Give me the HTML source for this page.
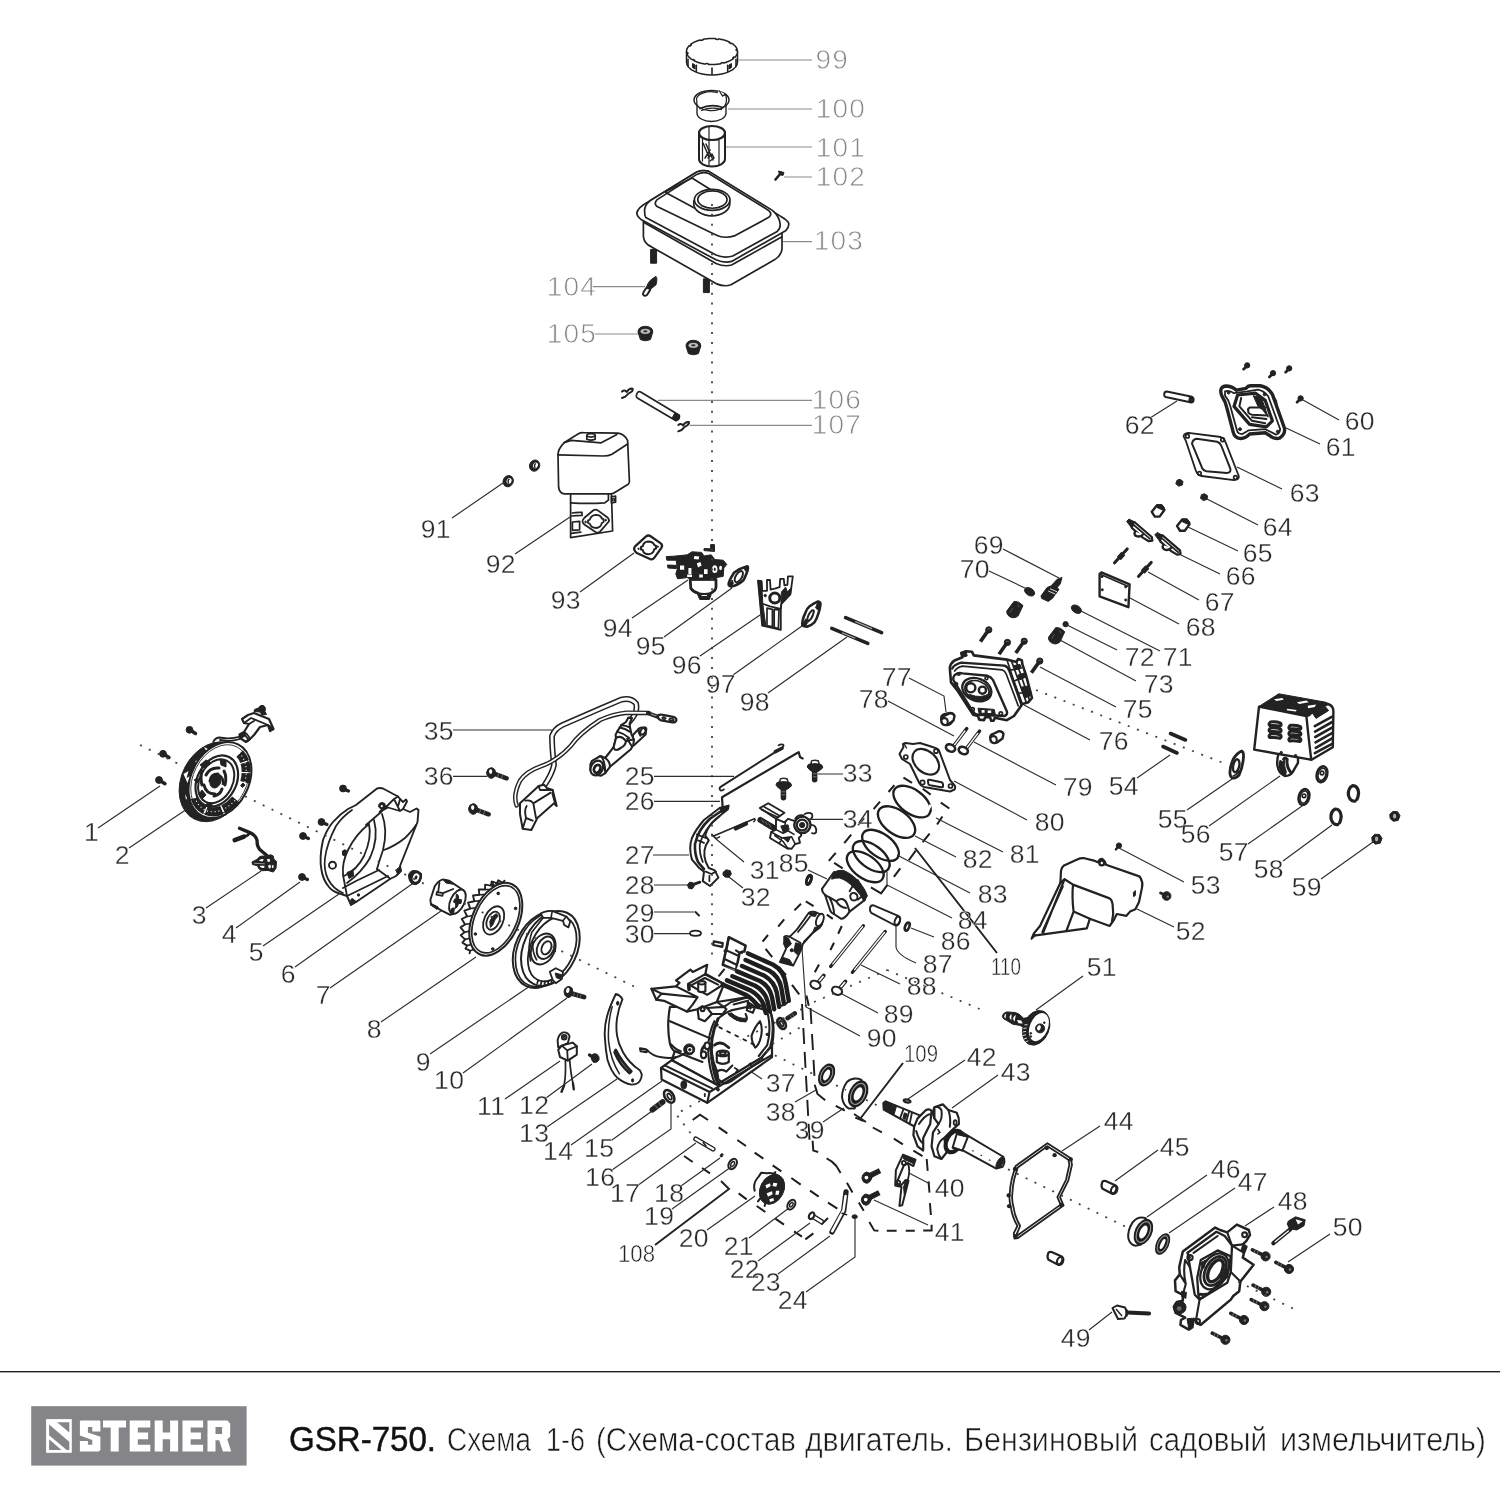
<!DOCTYPE html>
<html><head><meta charset="utf-8"><title>GSR-750</title>
<style>
html,body{margin:0;padding:0;background:#fff;}
body{width:1500px;height:1500px;overflow:hidden;font-family:"Liberation Sans",sans-serif;}
svg{display:block;position:absolute;left:0;top:0;opacity:.999;will-change:transform}
.p{fill:none;stroke:#222;stroke-width:1.7;stroke-linecap:round;stroke-linejoin:round}
.pw{fill:#fff;stroke:#222;stroke-width:1.7;stroke-linecap:round;stroke-linejoin:round}
.pk{fill:#222;stroke:#222;stroke-width:1;stroke-linejoin:round}
.t{fill:none;stroke:#222;stroke-width:.8;stroke-linecap:round;stroke-linejoin:round}
.p,.pw,.pk,.t,.pt{vector-effect:non-scaling-stroke}
.pt{fill:none;stroke:#222;stroke-width:2.4;stroke-linecap:round;stroke-linejoin:round}
.ld{fill:none;stroke:#2e2e2e;stroke-width:1.15}
.lg{fill:none;stroke:#8a8a8a;stroke-width:1.2}
.dot{fill:none;stroke:#444;stroke-width:1.8;stroke-dasharray:2 7.85;stroke-linecap:butt}
.dsh{fill:none;stroke:#222;stroke-width:1.8;stroke-dasharray:13 7}
.n{font-family:"Liberation Sans",sans-serif;font-size:26.5px;fill:#2a2a2a;stroke:#fff;stroke-width:.35px;letter-spacing:.4px}
.ng{font-family:"Liberation Sans",sans-serif;font-size:28px;fill:#858585;stroke:#fff;stroke-width:.8px;letter-spacing:1.2px}
.ns{font-family:"Liberation Sans",sans-serif;font-size:24px;fill:#222;stroke:#fff;stroke-width:.5px}
.ft{font-family:"Liberation Sans",sans-serif;font-size:33.5px;fill:#1a1a1a;stroke:#fff;stroke-width:.6px}
.fb{font-family:"Liberation Sans",sans-serif;font-size:34.5px;fill:#111;stroke:#111;stroke-width:.45px}
</style></head><body>
<svg width="1500" height="1500" viewBox="0 0 1500 1500">
<!-- 00_footer.svg -->
<g id="footer" opacity="0.999">
<rect x="0" y="1371" width="1500" height="1.4" fill="#222"/>
<rect x="31.2" y="1406.2" width="215.4" height="59.4" fill="#858589"/>
<rect x="46.1" y="1419.1" width="25.7" height="33.7" fill="#fff"/>
<path fill="#858589" d="M57.1 1422.3 L69.3 1422.3 L69.3 1432.6 Z M49.1 1424.6 L69.3 1441.7 L69.3 1449.9 L66.7 1449.9 L49.1 1435.2 Z M49.1 1439.3 L49.1 1449.9 L61.5 1449.9 Z"/>
<path fill="#fff" fill-rule="evenodd" d="M80.6 1420.5 L99.7 1420.5 L100.4 1421.3 L100.4 1431.5 L92.3 1431.5 L92.3 1427.1 L87.9 1427.1 L87.9 1432.6 L100.4 1436.7 L100.4 1449.9 L98.6 1451.6 L79.9 1451.6 L79.9 1441.1 L87.9 1441.1 L87.9 1444.7 L92.3 1444.7 L92.3 1439.9 L79.9 1435.6 L79.9 1421.3 Z M103 1420.5 L126.1 1420.5 L126.1 1427.6 L118.7 1427.6 L118.7 1451.6 L110.7 1451.6 L110.7 1427.6 L103 1427.6 Z M129.7 1420.5 L150.3 1420.5 L150.3 1427.6 L137.8 1427.6 L137.8 1432.6 L148.1 1432.6 L148.1 1439.3 L137.8 1439.3 L137.8 1444.7 L150.3 1444.7 L150.3 1451.6 L129.7 1451.6 Z M154.7 1420.5 L162.7 1420.5 L162.7 1432.6 L170.1 1432.6 L170.1 1420.5 L178.1 1420.5 L178.1 1451.6 L170.1 1451.6 L170.1 1439.3 L162.7 1439.3 L162.7 1451.6 L154.7 1451.6 Z M182.5 1420.5 L203.1 1420.5 L203.1 1427.6 L190.6 1427.6 L190.6 1432.6 L200.9 1432.6 L200.9 1439.3 L190.6 1439.3 L190.6 1444.7 L203.1 1444.7 L203.1 1451.6 L182.5 1451.6 Z M207.5 1420.5 L227.3 1420.5 L230.2 1423.5 L230.2 1436.7 L227.3 1439.3 L231.2 1451.6 L222.9 1451.6 L219.2 1440.3 L215.5 1440.3 L215.5 1451.6 L207.5 1451.6 Z M215.5 1427.1 L222.1 1427.1 L222.1 1434 L215.5 1434 Z"/>
<text class="fb" x="289" y="1450.5" textLength="147" lengthAdjust="spacingAndGlyphs">GSR-750.</text>
<text class="ft" x="447" y="1450.5" textLength="84" lengthAdjust="spacingAndGlyphs">Схема</text>
<text class="ft" x="546" y="1450.5" textLength="39" lengthAdjust="spacingAndGlyphs">1-6</text>
<text class="ft" x="596" y="1450.5" textLength="200" lengthAdjust="spacingAndGlyphs">(Схема-состав</text>
<text class="ft" x="805" y="1450.5" textLength="148" lengthAdjust="spacingAndGlyphs">двигатель.</text>
<text class="ft" x="964" y="1450.5" textLength="174" lengthAdjust="spacingAndGlyphs">Бензиновый</text>
<text class="ft" x="1149" y="1450.5" textLength="118" lengthAdjust="spacingAndGlyphs">садовый</text>
<text class="ft" x="1280" y="1450.5" textLength="206" lengthAdjust="spacingAndGlyphs">измельчитель)</text>
</g>
<!-- 10_top.svg -->
<g id="p99">
<path class="pw" style="stroke-width:1.5" d="M686.5 52.5 V62.0 A25.5 13.0 0 0 0 737.5 62.0 V52.5 A25.5 13.0 0 0 0 686.5 52.5 Z"/>
<path class="pw" style="stroke-width:1.5" d="M737.5 51.5 L737.5 51.7 L737.5 52.0 L737.5 52.2 L737.4 52.4 L737.4 52.6 L737.4 52.9 L737.3 53.1 L737.3 53.3 L737.2 53.5 L737.1 53.8 L737.0 54.0 L736.9 54.2 L736.8 54.4 L736.7 54.6 L736.6 54.9 L736.5 55.1 L736.4 55.3 L736.3 55.5 L736.1 55.7 L736.0 55.9 L735.8 56.2 L735.6 56.4 L735.5 56.6 L735.3 56.8 L735.1 57.0 L734.9 57.2 L733.7 57.1 L733.5 57.3 L733.3 57.5 L733.1 57.7 L732.9 57.9 L732.7 58.1 L733.4 58.6 L733.1 58.8 L732.9 59.0 L732.6 59.1 L732.4 59.3 L732.1 59.5 L731.8 59.7 L731.5 59.9 L731.2 60.0 L731.0 60.2 L730.6 60.4 L730.3 60.5 L730.0 60.7 L729.7 60.9 L729.4 61.0 L729.1 61.2 L728.7 61.3 L728.4 61.5 L728.0 61.6 L727.7 61.7 L727.3 61.9 L727.0 62.0 L726.6 62.1 L726.3 62.3 L725.9 62.4 L725.5 62.5 L725.1 62.6 L724.8 62.8 L724.4 62.9 L724.0 63.0 L723.1 62.6 L722.7 62.7 L722.3 62.8 L721.9 62.8 L721.5 62.9 L721.1 63.0 L721.1 63.6 L720.7 63.7 L720.3 63.8 L719.9 63.9 L719.5 63.9 L719.0 64.0 L718.6 64.1 L718.2 64.1 L717.7 64.2 L717.3 64.2 L716.9 64.3 L716.4 64.3 L716.0 64.3 L715.5 64.4 L715.1 64.4 L714.7 64.4 L714.2 64.5 L713.8 64.5 L713.3 64.5 L712.9 64.5 L712.4 64.5 L712.0 64.5 L711.6 64.5 L711.1 64.5 L710.7 64.5 L710.2 64.5 L709.8 64.5 L709.3 64.4 L708.9 64.4 L708.5 64.4 L708.2 63.8 L707.8 63.7 L707.4 63.7 L706.9 63.6 L706.5 63.6 L706.1 63.5 L705.4 64.1 L705.0 64.0 L704.5 63.9 L704.1 63.9 L703.7 63.8 L703.3 63.7 L702.9 63.6 L702.4 63.6 L702.0 63.5 L701.6 63.4 L701.2 63.3 L700.8 63.2 L700.4 63.1 L700.0 63.0 L699.6 62.9 L699.2 62.8 L698.9 62.6 L698.5 62.5 L698.1 62.4 L697.7 62.3 L697.4 62.1 L697.0 62.0 L696.7 61.9 L696.3 61.7 L696.0 61.6 L695.6 61.5 L695.3 61.3 L694.9 61.2 L694.6 61.0 L694.3 60.9 L694.0 60.7 L694.5 60.1 L694.2 60.0 L693.9 59.8 L693.6 59.6 L693.3 59.5 L692.2 59.7 L691.9 59.5 L691.6 59.3 L691.4 59.1 L691.1 59.0 L690.9 58.8 L690.6 58.6 L690.4 58.4 L690.1 58.2 L689.9 58.0 L689.7 57.8 L689.5 57.6 L689.3 57.4 L689.1 57.2 L688.9 57.0 L688.7 56.8 L688.5 56.6 L688.4 56.4 L688.2 56.2 L688.0 55.9 L687.9 55.7 L687.7 55.5 L687.6 55.3 L687.5 55.1 L687.4 54.9 L687.3 54.6 L687.2 54.4 L687.1 54.2 L687.0 54.0 L686.9 53.8 L687.9 53.4 L687.9 53.2 L687.8 53.0 L687.8 52.8 L687.7 52.6 L687.7 52.4 L686.5 52.2 L686.5 52.0 L686.5 51.7 L686.5 51.5 L686.5 51.3 L686.5 51.0 L686.5 50.8 L686.6 50.6 L686.6 50.4 L686.6 50.1 L686.7 49.9 L686.7 49.7 L686.8 49.5 L686.9 49.2 L687.0 49.0 L687.1 48.8 L687.2 48.6 L687.3 48.4 L687.4 48.1 L687.5 47.9 L687.6 47.7 L687.7 47.5 L687.9 47.3 L688.0 47.1 L688.2 46.8 L688.4 46.6 L688.5 46.4 L688.7 46.2 L688.9 46.0 L689.1 45.8 L690.3 45.9 L690.5 45.7 L690.7 45.5 L690.9 45.3 L691.1 45.1 L691.3 44.9 L690.6 44.4 L690.9 44.2 L691.1 44.0 L691.4 43.9 L691.6 43.7 L691.9 43.5 L692.2 43.3 L692.5 43.1 L692.8 43.0 L693.0 42.8 L693.4 42.6 L693.7 42.5 L694.0 42.3 L694.3 42.1 L694.6 42.0 L694.9 41.8 L695.3 41.7 L695.6 41.5 L696.0 41.4 L696.3 41.3 L696.7 41.1 L697.0 41.0 L697.4 40.9 L697.7 40.7 L698.1 40.6 L698.5 40.5 L698.9 40.4 L699.2 40.2 L699.6 40.1 L700.0 40.0 L700.9 40.4 L701.3 40.3 L701.7 40.2 L702.1 40.2 L702.5 40.1 L702.9 40.0 L702.9 39.4 L703.3 39.3 L703.7 39.2 L704.1 39.1 L704.5 39.1 L705.0 39.0 L705.4 38.9 L705.8 38.9 L706.3 38.8 L706.7 38.8 L707.1 38.7 L707.6 38.7 L708.0 38.7 L708.5 38.6 L708.9 38.6 L709.3 38.6 L709.8 38.5 L710.2 38.5 L710.7 38.5 L711.1 38.5 L711.6 38.5 L712.0 38.5 L712.4 38.5 L712.9 38.5 L713.3 38.5 L713.8 38.5 L714.2 38.5 L714.7 38.6 L715.1 38.6 L715.5 38.6 L715.8 39.2 L716.2 39.3 L716.6 39.3 L717.1 39.4 L717.5 39.4 L717.9 39.5 L718.6 38.9 L719.0 39.0 L719.5 39.1 L719.9 39.1 L720.3 39.2 L720.7 39.3 L721.1 39.4 L721.6 39.4 L722.0 39.5 L722.4 39.6 L722.8 39.7 L723.2 39.8 L723.6 39.9 L724.0 40.0 L724.4 40.1 L724.8 40.2 L725.1 40.4 L725.5 40.5 L725.9 40.6 L726.3 40.7 L726.6 40.9 L727.0 41.0 L727.3 41.1 L727.7 41.3 L728.0 41.4 L728.4 41.5 L728.7 41.7 L729.1 41.8 L729.4 42.0 L729.7 42.1 L729.2 42.7 L729.5 42.9 L729.8 43.0 L730.1 43.2 L730.4 43.4 L730.7 43.5 L731.8 43.3 L732.1 43.5 L732.4 43.7 L732.6 43.9 L732.9 44.0 L733.1 44.2 L733.4 44.4 L733.6 44.6 L733.9 44.8 L734.1 45.0 L734.3 45.2 L734.5 45.4 L734.7 45.6 L734.9 45.8 L735.1 46.0 L735.3 46.2 L735.5 46.4 L735.6 46.6 L735.8 46.8 L736.0 47.1 L736.1 47.3 L736.3 47.5 L736.4 47.7 L736.5 47.9 L736.6 48.1 L736.7 48.4 L736.8 48.6 L736.9 48.8 L737.0 49.0 L737.1 49.2 L736.1 49.6 L736.1 49.8 L736.2 50.0 L736.2 50.2 L736.3 50.4 L736.3 50.6 L737.5 50.8 L737.5 51.0 L737.5 51.3 L737.5 51.5Z"/>
<path class="p" style="stroke-width:1.6" d="M688.0 59.4 v6.5"/>
<path class="p" style="stroke-width:1.6" d="M696.3 65.2 v6.5"/>
<path class="p" style="stroke-width:1.6" d="M712.0 68.0 v6.5"/>
<path class="p" style="stroke-width:1.6" d="M727.7 65.2 v6.5"/>
<path class="p" style="stroke-width:1.6" d="M736.0 59.4 v6.5"/>
<path class="pk" d="M692.5 63.5l2.5 1.5v4l-2.5-1.5zM729 65l2.5-1.5v4l-2.5 1.5z"/>
</g>
<g id="p100">
<path class="pw" style="stroke-width:1.4" d="M697 105V113A14.5 8.5 0 0 0 726 113V105"/>
<ellipse class="pw" style="stroke-width:1.5" cx="711.5" cy="100" rx="17.5" ry="9.5"/>
<path class="pw" style="stroke-width:1.3" d="M697 101.5A14.5 7.5 0 0 1 720 93.5L722.5 96 L725.5 94.5 Q727.5 100 725.5 104.5 A14.5 7.5 0 0 1 697 101.5Z"/>
<path class="p" style="stroke-width:1.8" d="M700 108.5Q711 103.5 723 107.5"/>
<path class="p" style="stroke-width:1.3" d="M701.5 110.5Q711 106.5 721.5 109.5"/>
<path d="M719 90.5L724 93.5L722 97.5L717 94Z" fill="#fff" stroke="none"/>
<path class="p" style="stroke-width:1.3" d="M719.5 91L722.5 96L725.5 94.5"/>
</g>
<g id="p101">
<path class="pw" style="stroke-width:2" d="M699 133V159A13 7.5 0 0 0 725 159V133"/>
<ellipse class="pw" style="stroke-width:2.2" cx="712" cy="133" rx="13" ry="7"/>
<path class="p" style="stroke-width:1.2" d="M709 127V165M719 140V164M702.5 139V161"/>
<path class="p" style="stroke-width:1.5" d="M703 143L709 157M706 144L713 160M710 150L705 158M708 158L712 154L714 158L710 161"/>
</g>
<g id="p102"><path d="M775.5 179.5L781 173" stroke="#222" stroke-width="2.6" stroke-linecap="round" fill="none"/><path d="M778.5 171L784 172.5L783 175.5L779.5 174.5Z" class="pk"/></g>
<!-- 11_tank.svg -->
<g id="p103" transform="translate(620,160) scale(0.12)">
<!-- studs -->
<path class="pk" d="M255 745H305V860H255Z M695 990H745V1105H695Z"/>
<!-- lower body -->
<path class="pw" d="M195 500V640Q205 700 260 722L800 1030Q870 1060 925 1040L1290 830Q1350 790 1350 740V540Z"/>
<!-- flange -->
<path class="pw" d="M230 352Q150 395 140 440Q140 470 175 495L800 832Q870 862 930 845L1380 590Q1412 560 1405 525Q1395 500 1340 470L740 95Q690 80 640 100Z"/>
<path class="p" d="M200 520 L800 862Q870 892 930 875L1350 640"/>
<!-- dome outer -->
<path class="pw" d="M205 430Q200 380 250 340L640 100Q690 80 740 95L1270 420Q1330 470 1335 540Q1335 575 1310 595L940 800Q870 822 800 792L215 480Q205 460 205 430Z"/>
<!-- top face -->
<path class="p" d="M310 330L640 120Q690 95 740 112L1235 418Q1275 450 1240 478L960 630Q870 660 800 625L305 385Q280 360 310 330Z"/>
<path class="p" d="M380 265L600 150L760 250M380 270L620 400"/>
<!-- filler neck -->
<path class="pw" d="M615 340V365A150 100 0 0 0 915 365V340Z"/>
<ellipse class="pw" cx="768" cy="332" rx="148" ry="88"/>
<ellipse class="pw" cx="770" cy="330" rx="122" ry="72"/>
</g>
<g id="p104" transform="translate(620,160) scale(0.12)">
<path class="pk" d="M300 970Q315 985 300 1040L250 1080L225 1050Q240 1000 300 970Z"/>
<path class="pw" style="stroke-width:2" d="M228 1055L252 1082L225 1125Q200 1140 192 1120Q188 1105 228 1055Z"/>
</g>
<!-- 12_airfilter.svg -->
<g id="p105" transform="translate(520,310) scale(0.133333)">
<g id="nut105">
<path class="pk" d="M885 165Q885 125 940 122Q995 125 996 165L978 222Q940 240 903 222Z"/>
<ellipse cx="940" cy="160" rx="36" ry="20" fill="#bbb" stroke="none"/>
<ellipse cx="940" cy="160" rx="16" ry="8" fill="#333" stroke="none"/>
</g>
<use href="#nut105" x="360" y="105"/>
<!-- rod 106 -->
<path class="pw" style="stroke-width:1.7" d="M873 640Q880 605 905 615L1195 790Q1200 820 1170 830L880 660Q870 655 873 640Z"/>
<path class="pk" d="M1160 775L1197 795Q1200 820 1172 830L1140 812Z"/>
<!-- clips 107 -->
<g id="clip107"><path class="p" style="stroke-width:2" d="M765 612Q785 595 800 615Q820 585 845 590Q850 610 815 625Q800 640 790 650L765 660"/></g>
<use href="#clip107" x="422" y="250"/>
</g>
<g id="p92" transform="translate(480,420) scale(0.12)">
<!-- base -->
<path class="pw" d="M755 600V980L1105 925L1095 600Z"/>
<path class="p" d="M755 690Q900 700 1040 690L1070 668V620"/>
<path class="pw" d="M1095 640L1130 635V685L1095 690Z"/>
<path class="p" d="M1105 655h15v18h-15z" style="stroke-width:1.2"/>
<path class="p" d="M768 775Q800 768 850 770M762 800Q800 795 850 795M850 770V795M770 850L830 845V915L770 920Z"/>
<path class="p" d="M760 945L840 935"/>
<!-- diamond -->
<path class="pw" style="stroke-width:1.8" d="M855 850Q850 835 870 815L945 752Q965 740 985 755L1065 815Q1082 832 1070 850L1000 930Q985 945 965 935L870 870Q858 862 855 850Z"/>
<path class="p" style="stroke-width:1.8" d="M965 790Q1005 790 1015 820L1030 828V850L1015 858Q1010 895 970 900Q925 900 915 865L900 858V838L915 830Q925 792 965 790Z"/>
<circle class="pk" cx="880" cy="850" r="7"/><circle class="pk" cx="1047" cy="835" r="7"/>
<!-- cover -->
<path class="pw" d="M650 290Q650 240 700 190L820 115Q840 103 860 105L1150 110Q1200 115 1230 170L1245 510Q1245 528 1235 535L1130 600Q1110 615 1090 615H700Q660 610 655 560Z"/>
<path class="p" d="M650 290L1030 300Q1070 300 1100 285L1230 200"/>
<path class="p" d="M700 190L760 170L1010 190L1140 120"/>
<path class="pw" d="M890 130V160Q925 175 960 160V130Z"/>
<ellipse class="pw" cx="925" cy="128" rx="35" ry="14"/>
<!-- nuts 91 -->
<g id="nut91"><ellipse class="pk" cx="455" cy="380" rx="42" ry="48" transform="rotate(25 455 380)"/><ellipse cx="462" cy="378" rx="20" ry="24" fill="#fff" transform="rotate(25 462 378)"/><path class="p" style="stroke-width:1.4" d="M462 365Q448 375 458 395"/></g>
<use href="#nut91" x="-220" y="130"/>
</g>
<!-- 13_carb.svg -->
<g id="p93_96" transform="translate(620,520) scale(0.12)">
<!-- gasket 93 -->
<path class="pw" style="stroke-width:2.3" d="M120 250Q112 235 130 215L215 138Q235 122 255 135L340 195Q358 210 345 232L285 315Q270 335 250 325L140 275Q125 265 120 250Z"/>
<path class="p" style="stroke-width:2" d="M235 180Q275 180 285 208L300 215V238L285 245Q278 282 240 285Q198 285 190 252L175 245V225L190 218Q198 182 235 180Z"/>
<circle class="pk" cx="155" cy="240" r="6"/><circle class="pk" cx="315" cy="222" r="6"/>
<!-- carb 94 -->
<path class="pw" style="stroke-width:2.8" d="M585 495L590 570Q610 600 650 610L670 655H740L755 610Q795 590 800 560V495Z"/><path class="pk" d="M655 615Q700 628 750 615L738 655H672Z"/><path d="M680 625h45v8h-45z" fill="#fff"/>
<path class="p" d="M650 610Q700 620 755 610"/>
<path class="pk" d="M470 300L560 290L600 265L680 270L700 300L760 290L790 330L860 335L890 370L865 400L860 470L800 480L790 500L600 500L560 480L480 490L465 450L480 400L470 360Z"/>
<path class="pk" d="M385 305L475 300L560 320L555 345L470 335L390 335Z M395 375L470 378V405L400 400Z"/>
<path class="pk" d="M755 205H787V262L700 255V238L755 240Z"/>
<path d="M500 380h35v35h-35z M570 400h25v50h-25z M640 360l30 -10l10 30l-30 15z M700 410h30v40h-30z M620 300l40 5l-5 25l-40 -5z M560 455l40 0l0 20l-40 0z M660 455h30v25h-30z" fill="#fff"/>
<ellipse cx="790" cy="410" rx="22" ry="32" fill="#fff"/><ellipse cx="838" cy="400" rx="12" ry="18" fill="#fff"/>
<ellipse cx="790" cy="410" rx="8" ry="14" fill="#222"/>
<!-- gasket 95 -->
<path class="pw" style="stroke-width:2.6" d="M905 540Q900 520 950 440Q1000 400 1060 385Q1082 392 1030 500Q990 540 930 555Q910 552 905 540Z"/>
<ellipse class="p" style="stroke-width:2" cx="990" cy="472" rx="25" ry="52" transform="rotate(32 990 472)"/>
<path class="pk" d="M905 540L935 500L945 530L925 552Z M1035 400L1068 388L1060 430L1045 425Z"/>
<!-- insulator 96 -->
<path class="pw" style="stroke-width:1.8" d="M1150 505L1180 510L1185 590H1225V500H1250L1255 580L1290 572L1330 560L1335 490H1365L1370 545L1395 540L1400 470H1440L1420 620L1345 700L1340 740V915L1185 880Z"/>
<path class="pk" d="M1150 505L1180 510L1190 700L1215 880L1185 880Z"/>
<path class="pk" d="M1340 740L1345 700L1420 620L1430 560L1395 600L1380 560L1345 600Z"/>
<circle class="pw" style="stroke-width:3" cx="1290" cy="650" r="42"/>
<circle class="pk" cx="1210" cy="630" r="10"/>
<path class="p" d="M1195 700L1250 720L1340 740M1225 735L1270 745V890L1225 880ZM1285 745L1325 750L1320 905L1285 895Z"/>
</g>
<!-- 14_g97.svg -->
<g id="p97_98" transform="translate(740,560) scale(0.12)">
<path class="pw" style="stroke-width:2.6" d="M520 545Q515 500 545 440Q560 400 580 385Q620 355 650 345Q675 350 670 370Q668 400 655 440Q640 490 620 520Q590 550 560 555Q530 555 520 545Z"/>
<path class="p" style="stroke-width:2" d="M560 500Q565 450 600 420Q625 410 610 450Q600 490 570 510Z"/>
<path class="pk" d="M520 545L548 490L565 520L545 550Z M650 345L668 365L655 420L630 400Z"/>
<path d="M765 570L1065 695" stroke="#222" stroke-width="30" stroke-linecap="round" fill="none"/>
<path d="M880 480L1180 605" stroke="#222" stroke-width="30" stroke-linecap="round" fill="none"/>
<path d="M850 606L960 652M960 513L1100 572" stroke="#aaa" stroke-width="10" fill="none"/>
</g>
<!-- 20_head.svg -->
<g id="p69_76" transform="translate(930,560) scale(0.12)">
<!-- 70 / 71 caps -->
<ellipse class="pk" cx="830" cy="265" rx="46" ry="30" transform="rotate(32 830 265)"/>
<ellipse class="pk" cx="1220" cy="410" rx="46" ry="30" transform="rotate(32 1220 410)"/>
<circle class="pk" cx="1130" cy="535" r="22"/>
<!-- spark plug 69 -->
<path class="pk" d="M1100 145L1085 200L1060 230L1075 245L1020 320L985 345L930 320L925 300L975 230L1010 215L1060 160Z"/>
<path d="M985 258L1045 285M1000 240L1060 265" stroke="#fff" stroke-width="7" fill="none"/>
<!-- springs 73 -->
<g id="spr73"><path class="pk" d="M700 345Q740 340 775 380L735 465Q700 495 660 470Q635 450 640 425Z"/><path d="M665 440L690 400M730 370L745 395" stroke="#777" stroke-width="5" fill="none"/></g>
<use href="#spr73" x="348" y="218"/>
<!-- bolts 75 -->
<g id="b75"><path d="M480 595L420 680" stroke="#222" stroke-width="30" stroke-linecap="butt" fill="none"/><circle class="pk" cx="490" cy="582" r="26"/><path d="M478 578a14 10 0 0 1 24 0" stroke="#999" stroke-width="5" fill="none"/></g>
<use href="#b75" x="155" y="105"/><use href="#b75" x="295" y="95"/><use href="#b75" x="425" y="260"/>
<!-- dowel 77 -->
<path class="pw" style="stroke-width:2.4" d="M95 1320Q90 1295 120 1285L165 1275Q195 1275 200 1300L185 1345Q175 1372 145 1375Q115 1375 105 1350Z"/>
<path class="p" style="stroke-width:1.9" d="M98 1322Q120 1345 150 1330Q185 1320 198 1298"/>
<!-- cylinder head 76 -->
<path class="pw" style="stroke-width:2.6" d="M165 900Q170 860 200 840L270 810L260 775L300 760L350 765L365 795L640 830L720 850L735 825L765 835L770 870L800 960L850 1150L820 1185L770 1200L700 1300L640 1335L540 1315L530 1340H510L500 1310H460L450 1335L410 1330L400 1300L360 1290L230 1090L175 1020Z"/>
<path class="p" style="stroke-width:2.4" d="M185 905Q200 870 260 855L620 880Q650 890 660 920L760 1200"/>
<path class="p" d="M205 925Q225 895 270 885L600 915Q625 925 635 950L735 1215"/>
<path class="p" style="stroke-width:2.4" d="M200 1010Q185 990 205 960Q230 935 270 945L480 965Q510 975 525 1000L640 1260Q650 1290 620 1300L400 1290Q370 1285 355 1260L230 1060Z"/>
<path class="p" d="M640 830L700 1010L770 1200M680 845L800 1180M720 850L830 1170M700 1010L800 960M740 1110L840 1100M660 920L760 900"/>
<path class="pk" d="M730 960L790 940L800 975L745 1000Z M760 1060L815 1050L840 1130L790 1150Z M700 880L750 870L760 900L715 915Z"/>
<ellipse class="pw" style="stroke-width:2.4" cx="390" cy="1080" rx="125" ry="92" transform="rotate(22 390 1080)"/>
<ellipse class="p" cx="392" cy="1085" rx="105" ry="76" transform="rotate(22 392 1085)"/>
<path class="pk" d="M300 1130Q380 1190 480 1150Q500 1130 495 1110Q430 1160 330 1120Z"/>
<circle class="pw" style="stroke-width:2.4" cx="340" cy="1065" r="38"/><circle class="pw" style="stroke-width:2.4" cx="437" cy="1085" r="30"/>
<path class="pk" d="M400 1235L535 1245L545 1290L410 1285Z"/>
<path d="M430 1250h25v22h-25z M480 1255h30v20h-30z" fill="#fff"/>
<circle class="p" cx="215" cy="1035" r="14"/><circle class="p" cx="240" cy="950" r="10"/><circle class="p" cx="470" cy="985" r="12"/><circle class="p" cx="355" cy="1245" r="14"/><circle class="p" cx="590" cy="1280" r="14"/>
<path class="pk" d="M262 775L300 760L310 800L275 808Z"/>
</g>
<!-- 21_valvecover.svg -->
<g id="p60_64" transform="translate(1150,350) scale(0.12)">
<g id="s60"><path d="M805 135L780 160" stroke="#222" stroke-width="22" stroke-linecap="round" fill="none"/><circle class="pk" cx="810" cy="128" r="22"/></g>
<use href="#s60" x="215" y="65"/><use href="#s60" x="350" y="25"/><use href="#s60" x="445" y="275"/>
<!-- pin 62 -->
<path class="pw" style="stroke-width:2" d="M118 372Q118 345 140 345L350 390Q368 400 362 425Q355 442 335 435L130 392Q118 388 118 372Z"/>
<path class="pk" d="M330 386L352 391Q368 400 362 425Q355 442 335 435L322 432Z"/>
<!-- gasket 63 -->
<path class="pw" style="stroke-width:1.8" d="M280 720Q280 695 320 690L590 725Q620 735 630 770L740 1050Q745 1080 700 1085L430 1050Q395 1045 380 1000L300 760Z"/>
<path class="p" style="stroke-width:2" d="M350 780Q355 745 390 740L560 765Q585 775 595 800L670 990Q675 1025 640 1025L470 1010Q445 1005 435 985Z"/>
<circle class="p" cx="312" cy="718" r="15"/><circle class="p" cx="605" cy="748" r="15"/><circle class="p" cx="412" cy="1028" r="15"/><circle class="p" cx="712" cy="1062" r="15"/>
<!-- cover 61 -->
<path class="pw" style="stroke-width:3.4" d="M590 335Q595 300 640 300Q690 305 720 335L800 320Q815 298 840 298H920Q985 310 1020 370L1120 650Q1130 700 1080 735Q1030 745 1000 715L960 690L830 700Q800 735 755 738Q705 730 695 690L640 480Q630 430 600 385Q588 360 590 335Z"/>
<path class="p" style="stroke-width:1.8" d="M625 345Q660 330 700 360L810 345L900 330Q950 340 985 385L1085 660Q1080 700 1050 705L960 660L820 670L770 700Q730 700 725 670L670 470Q660 420 625 380Z"/>
<path class="pw" style="stroke-width:3.2" d="M700 470L730 375L880 360L960 420L1020 590L970 640L830 620Z"/>
<path class="pk" d="M860 380L930 400L985 560L940 500L900 470Z"/>
<path class="p" style="stroke-width:2" d="M760 400L745 470L850 590L960 610M830 480H960M820 500Q810 530 850 540L980 545M850 560L970 575M830 480Q810 490 820 510"/>
<circle class="pk" cx="655" cy="355" r="12"/><circle class="pk" cx="955" cy="370" r="12"/><circle class="pk" cx="750" cy="660" r="12"/><circle class="pk" cx="1065" cy="680" r="12"/>
<path class="p" d="M1030 400Q1065 420 1050 470"/>
<!-- 64 -->
<g id="h64"><path class="pk" d="M225 1085L250 1078L275 1095L270 1125L240 1135L215 1115Z"/></g>
<use href="#h64" x="205" y="120"/>
</g>
<g id="p65_68" transform="translate(1090,480) scale(0.12)">
<g id="c65"><path class="pw" style="stroke-width:2.4" d="M515 265L555 215L605 225L620 250L580 305L540 305Z"/><path class="pk" d="M555 205L600 205L622 235L615 255L560 230Z"/></g>
<use href="#c65" x="210" y="118"/>
<g id="r66"><path class="pw" style="stroke-width:2.2" d="M330 345L370 350L515 475L520 505L490 510L440 480L350 400Z"/><path class="pk" d="M305 345L325 325L370 350L355 395L340 390Z"/><path class="pw" style="stroke-width:2.4" d="M375 430Q360 460 395 470Q425 475 440 455"/><path class="p" d="M365 375L500 490"/></g>
<use href="#r66" x="235" y="112"/>
<g id="s67"><path d="M310 575L205 690" stroke="#222" stroke-width="26" stroke-linecap="round" fill="none"/><path d="M278 612L240 655" stroke="#222" stroke-width="44" stroke-linecap="butt" fill="none"/></g>
<use href="#s67" x="200" y="112"/>
<path class="pw" style="stroke-width:2.4" d="M80 782L95 770L330 870L320 1060L80 970Z"/>
<path class="p" style="stroke-width:1.5" d="M95 790L315 885"/>
<circle class="pk" cx="100" cy="805" r="9"/><circle class="pk" cx="298" cy="890" r="9"/><circle class="pk" cx="102" cy="915" r="9"/><circle class="pk" cx="298" cy="1000" r="9"/>
</g>
<!-- 22_muffler.svg -->
<g id="p54_59" transform="translate(1220,680) scale(0.12)">
<!-- pipe -->
<path class="pw" style="stroke-width:2.4" d="M490 600Q470 680 480 720Q490 780 540 800Q590 800 610 760L650 690V640Z"/>
<path class="p" style="stroke-width:3" d="M505 680Q490 740 540 790M530 660Q540 640 560 660Q550 720 590 770"/>
<path class="pk" d="M510 690Q500 750 545 790Q560 770 545 740Q530 700 540 665Z"/>
<!-- body -->
<path class="pw" style="stroke-width:2.4" d="M325 222L720 300Q745 300 760 275L900 200Q945 215 945 260L940 560L770 660Q760 668 745 662L285 580Z"/>
<path class="pk" d="M325 220L490 115L880 185Q900 190 905 200L760 272Q745 300 720 300Z"/>
<path d="M640 185L720 170L740 185L660 200ZM450 160L520 150L530 165L470 175ZM730 215L800 205L790 225L735 235Z M560 240L640 250L630 262L555 252Z" fill="#fff"/>
<path class="p" style="stroke-width:2.4" d="M720 300Q740 500 760 660"/>
<path class="pk" d="M770 275L880 225L905 255L800 320Z"/>
<path class="p" style="stroke-width:2.6" d="M790 385L935 305M792 430L935 350M794 475L937 395M796 520L937 440M798 565L938 485M790 610L938 530"/>
<g id="louv"><path class="p" style="stroke-width:3" d="M420 350Q470 345 505 360Q515 375 500 385Q460 375 415 380Q400 368 420 350Z"/></g>
<use href="#louv" y="50"/><use href="#louv" y="100"/><use href="#louv" x="165" y="28"/><use href="#louv" x="165" y="78"/><use href="#louv" x="165" y="128"/>
<circle class="pk" cx="510" cy="605" r="10"/><circle class="pk" cx="630" cy="630" r="10"/>
<!-- gasket 55 -->
<path class="pw" style="stroke-width:2.8" d="M85 790Q75 740 110 660Q140 610 180 592Q200 600 195 650Q190 720 160 790Q130 825 100 815Q88 808 85 790Z"/>
<ellipse class="p" style="stroke-width:2.4" cx="135" cy="715" rx="25" ry="55" transform="rotate(12 135 715)"/>
<path class="p" d="M110 800Q140 790 160 760"/>
<!-- washers 57 -->
<g id="w57"><ellipse class="pw" style="stroke-width:2.4" cx="850" cy="785" rx="44" ry="68" transform="rotate(15 850 785)"/><ellipse class="p" style="stroke-width:1.6" cx="850" cy="785" rx="32" ry="52" transform="rotate(15 850 785)"/><circle class="p" cx="850" cy="775" r="15"/></g>
<use href="#w57" x="-150" y="190"/>
<!-- rings 58 -->
<g id="r58"><path class="p" style="stroke-width:3.2" d="M1125 1010Q1085 1015 1070 960Q1065 900 1105 880Q1150 880 1155 940Q1150 985 1140 995"/></g>
<use href="#r58" x="-145" y="195"/>
<!-- nuts 59 -->
<g id="n59"><path class="pk" d="M1415 1120L1440 1095L1480 1098L1500 1130L1485 1170L1445 1178L1418 1155Z"/><ellipse cx="1455" cy="1135" rx="14" ry="20" fill="#aaa"/></g>
<use href="#n59" x="-150" y="190"/>
</g>
<g id="p54" stroke="#222" stroke-width="3.6" stroke-linecap="round" fill="none"><path d="M1170.5 733.5L1185.5 740M1163 746.5L1177 753"/></g>
<!-- 23_cover52.svg -->
<g id="p52_53" transform="translate(1010,830) scale(0.12)">
<path class="pw" style="stroke-width:2.2" d="M180 905L200 860L250 800L420 440L425 340Q430 310 450 295L560 245Q590 232 620 235L700 255L735 270Q740 245 765 240Q790 250 800 290L1060 380Q1085 385 1090 405Q1110 440 1100 480L1075 600L1045 660L1000 680L970 715L890 700L865 750L830 800L665 740L640 820L200 880Z"/>
<path class="p" style="stroke-width:2.2" d="M420 440L455 410L525 455L830 570Q850 580 855 620L860 700L850 760M525 455Q515 560 530 680L665 740M455 410L275 860M440 470L270 850M530 680L470 840"/>
<circle class="p" style="stroke-width:2.4" cx="765" cy="275" r="20"/>
<path class="pk" d="M1028 520L1045 505L1045 545L1030 555Z"/>
<path class="pk" d="M180 905L195 865L215 875L200 895Z"/>
<path d="M905 135L882 162" stroke="#222" stroke-width="20" stroke-linecap="round" fill="none"/><circle class="pk" cx="908" cy="130" r="22"/>
<path d="M1255 525L1290 540" stroke="#222" stroke-width="24" stroke-linecap="round" fill="none"/><circle class="pk" cx="1305" cy="550" r="36"/><circle cx="1315" cy="555" r="10" fill="#888"/>
</g>
<!-- 24_cam51.svg -->
<g id="p51" transform="translate(990,990) scale(0.06)">
<!-- shaft -->
<path class="pk" d="M205 440Q215 380 280 365L420 375L480 400L560 470L640 460L600 640L500 590L380 570L280 510Q210 480 205 440Z"/>
<path d="M235 440Q245 400 275 395Q255 430 265 475Q240 465 235 440Z M325 450Q335 410 360 400L355 500Q330 490 325 450Z M385 470Q400 420 430 415L410 525Q385 510 385 470Z M450 500L520 510L545 560L475 555Z" fill="#fff"/>
<!-- gear rim -->
<ellipse class="pk" cx="770" cy="630" rx="215" ry="300" transform="rotate(22 770 630)"/>
<ellipse cx="815" cy="618" rx="150" ry="245" transform="rotate(22 815 618)" fill="#fff"/>
<path d="M548 700L600 690M545 760L600 745M560 820L615 800M590 870L640 845M555 640L610 635M575 580L625 580" stroke="#fff" stroke-width="14" fill="none"/>
<circle class="pk" cx="835" cy="640" r="75"/>
<ellipse cx="815" cy="630" rx="30" ry="45" fill="#fff" transform="rotate(20 815 630)"/>
<circle class="pk" cx="905" cy="545" r="14"/><circle class="pk" cx="680" cy="722" r="14"/><circle class="pk" cx="680" cy="775" r="14"/>
</g>
<!-- 25_rings.svg -->
<g id="p77_80" transform="translate(880,700) scale(0.1)">
<!-- dowels 77 -->
<g id="d77"><path class="pw" style="stroke-width:2.4" d="M612 200Q610 170 640 160L700 132Q735 130 745 160L735 205L680 245Q650 260 625 240Q612 225 612 200Z"/><path class="p" style="stroke-width:2" d="M615 195Q640 170 670 190Q685 215 670 245"/></g>
<use href="#d77" x="490" y="180"/>
<!-- valves 78/79 -->
<g id="v78"><path d="M738 458L868 285" stroke="#222" stroke-width="34" stroke-linecap="round" fill="none"/><path d="M738 458L852 306" stroke="#fff" stroke-width="14" stroke-linecap="butt" fill="none"/><ellipse class="pw" style="stroke-width:2.6" cx="705" cy="480" rx="48" ry="34" transform="rotate(25 705 480)"/></g>
<use href="#v78" x="128" y="25"/>
<!-- gasket 80 -->
<path class="pw" style="stroke-width:2" d="M195 540L235 470L230 440L255 430L330 440L400 430L540 475Q580 485 590 505L700 800L750 860Q755 885 745 895L700 915L440 870Q405 860 395 835L300 640L220 590Z"/>
<ellipse class="p" style="stroke-width:2.2" cx="458" cy="618" rx="152" ry="105" transform="rotate(42 458 618)"/>
<circle class="p" cx="258" cy="570" r="20"/><circle class="p" cx="560" cy="512" r="20"/><circle class="p" cx="425" cy="825" r="22"/><circle class="p" cx="705" cy="860" r="20"/>
<path class="p" style="stroke-width:2" d="M480 805Q480 795 495 798L615 822Q630 828 630 845V865Q628 875 612 872L500 852Q482 848 482 835Z"/>
<path class="p" style="stroke-width:1.4" d="M245 445L265 480"/>
</g>
<g id="p81_84" transform="translate(800,760) scale(0.106667)">
<g fill="none" stroke="#1e1e1e" stroke-width="22">
<ellipse cx="1050" cy="390" rx="200" ry="112" transform="rotate(36 1050 390)"/>
<ellipse cx="905" cy="582" rx="200" ry="112" transform="rotate(36 905 582)"/>
<ellipse cx="755" cy="800" rx="198" ry="108" transform="rotate(36 755 800)"/>
<ellipse cx="668" cy="905" rx="198" ry="108" transform="rotate(36 668 905)"/>
<ellipse cx="612" cy="1000" rx="198" ry="108" transform="rotate(36 612 1000)"/>
</g>
<path d="M1225 420L1175 515" stroke="#fff" stroke-width="26" fill="none"/>
<!-- dashed box 110 -->
<path d="M970 165L1050 215M1150 270L1225 325M1320 400L1400 455M1335 530L1285 605M1215 690L1150 770M1085 850L1020 940M940 1015L880 1095M820 1170L760 1250L665 1195M885 235L830 300M750 390L690 460M600 545L545 610M480 700L415 780M335 870L270 945M320 965L400 1015" stroke="#1e1e1e" stroke-width="19" fill="none"/>
</g>
<!-- 26_piston.svg -->
<g id="p85_90" transform="translate(750,860) scale(0.12)">
<!-- clips 86 -->
<g id="c86"><ellipse class="p" style="stroke-width:2.6" cx="490" cy="165" rx="17" ry="36" transform="rotate(22 490 165)"/></g>
<use href="#c86" x="820" y="390"/>
<!-- piston 85 -->
<path class="pw" style="stroke-width:2" d="M700 100L600 240Q600 270 625 290L665 410Q670 440 700 450L760 490Q790 490 830 430L960 330L900 170Z"/>
<path class="pk" d="M690 110Q730 78 778 86Q855 118 915 188Q968 258 978 300L950 345Q925 290 870 235Q805 165 745 150Q710 148 680 160Z"/>
<path class="p" style="stroke-width:2" d="M625 290Q640 300 660 310L720 345Q740 320 770 325Q800 335 810 370L830 430M660 310Q700 380 700 450M720 345Q745 390 800 400"/>
<path class="p" style="stroke-width:1.9" d="M835 300Q840 270 870 275Q900 285 895 320Q880 345 850 335Q835 320 835 300ZM830 260L860 210M900 330L935 300"/>
<!-- pin 87 -->
<path class="pw" style="stroke-width:1.9" d="M1000 400Q1005 375 1030 378L1235 465Q1255 480 1250 510Q1240 545 1215 548L1010 440Q995 425 1000 400Z"/>
<ellipse class="p" style="stroke-width:1.9" cx="1228" cy="506" rx="20" ry="36" transform="rotate(22 1228 506)"/>
<!-- conrod 90 -->
<path class="pw" style="stroke-width:1.9" d="M285 640Q300 625 330 640L390 580Q450 500 490 440Q520 420 560 440Q610 455 610 500Q605 540 580 565L520 610L440 700L430 740L360 880L250 850L300 740Z"/>
<ellipse class="pw" style="stroke-width:1.9" cx="582" cy="500" rx="28" ry="55" transform="rotate(22 582 500)"/>
<path class="pk" d="M490 440L560 440L545 470L505 465Z M540 560L580 565L520 610Z"/>
<path class="p" style="stroke-width:1.8" d="M330 640L420 690L430 740M400 600Q450 540 500 470M450 680L560 570"/>
<path class="pk" d="M285 640L320 650L345 700L300 740L280 700Z M380 690L420 700L425 740L395 790L365 760Z M250 850L270 810L330 830L360 880Z"/>
<circle class="pk" cx="348" cy="752" r="13"/>
<!-- pushrods 88 -->
<g id="r88"><path d="M945 548L672 888" stroke="#222" stroke-width="28" stroke-linecap="round" fill="none"/><path d="M938 556L690 866" stroke="#fff" stroke-width="11" stroke-linecap="round" fill="none"/></g>
<use href="#r88" x="182" y="48"/>
<!-- lifters 89 -->
<g id="l89"><path d="M575 1010L615 962" stroke="#222" stroke-width="32" stroke-linecap="round" fill="none"/><path d="M575 1010L612 966" stroke="#fff" stroke-width="14" stroke-linecap="butt" fill="none"/><ellipse class="pw" style="stroke-width:2" cx="545" cy="1040" rx="44" ry="32" transform="rotate(25 545 1040)"/></g>
<use href="#l89" x="180" y="50"/>
<!-- dashed box 90 group -->
<path d="M105 680L150 625M235 555L285 495M370 420L425 365M465 345L530 385M640 455L690 490M130 740L185 810M240 890L300 960M350 1040L410 1120M470 1130L490 1215M765 550L735 615M700 690L670 750M575 870L540 935" stroke="#1e1e1e" stroke-width="17" fill="none"/>
</g>
<!-- 27_governor.svg -->
<g id="p25_34" transform="translate(680,730) scale(0.12)">
<!-- rod 25 + spring -->
<path class="p" style="stroke-width:1.9" d="M365 495Q345 515 332 495Q325 480 345 470L800 180"/>
<path d="M795 180L850 152" stroke="#222" stroke-width="30" stroke-linecap="round" fill="none"/>
<path class="p" style="stroke-width:1.7" d="M850 150Q870 130 860 122Q840 115 820 128"/>
<!-- rod 26 -->
<path class="p" style="stroke-width:2.2" d="M355 640L350 560L980 190L990 185L1000 225L1022 237"/>
<!-- arm 27 -->
<path class="pw" style="stroke-width:2" d="M405 630L330 650L200 750Q130 830 100 900Q70 980 100 1080L160 1150L200 1180L190 1260L250 1300L320 1230L290 1170L240 1150L215 1100Q180 1000 240 920L210 880Q230 800 300 740L400 660Z"/>
<path class="p" style="stroke-width:2.6" d="M380 650L250 740Q150 830 125 950Q120 1030 150 1100L200 1160"/>
<path class="p" style="stroke-width:1.8" d="M330 720Q200 820 165 950Q160 1030 190 1100M215 1180L260 1200L300 1180M245 1215V1260M140 870L215 900M150 920L200 940"/>
<path class="pk" d="M330 650L400 635L395 660L345 690Z"/>
<!-- bolts 33 -->
<g id="b33"><path d="M1122 340V415" stroke="#222" stroke-width="46" stroke-linecap="round" fill="none"/><path d="M1108 365h30M1108 390h30" stroke="#999" stroke-width="6"/><path class="pk" d="M1060 310Q1060 285 1090 280L1095 255Q1125 245 1155 255L1160 280Q1190 290 1190 315Q1160 350 1125 350Q1085 350 1060 310Z"/><path d="M1100 262Q1125 255 1150 264V280Q1125 272 1100 280Z" fill="#fff"/></g>
<use href="#b33" x="-260" y="150"/>
<!-- spring 31 -->
<path class="p" style="stroke-width:1.5" d="M265 870L300 905L330 890M275 885L620 740Q635 745 615 765"/>
<path d="M465 820L550 780" stroke="#222" stroke-width="36" stroke-linecap="round" fill="none"/>
<!-- part 34 -->
<path class="pw" style="stroke-width:1.9" d="M665 650L735 610L870 690L800 740Z"/>
<path class="p" style="stroke-width:1.6" d="M680 665L810 725M700 640L830 715"/>
<path d="M670 750L780 815" stroke="#222" stroke-width="50" stroke-linecap="round" fill="none"/>
<path d="M680 745l18 30M710 762l18 30M740 780l18 30" stroke="#888" stroke-width="6"/>
<path class="pw" style="stroke-width:1.9" d="M800 740L870 770L900 740L960 760L1000 800L1010 880L990 900L1000 940L960 950L930 990L890 985L750 900L760 850L800 830Z"/>
<path class="p" style="stroke-width:1.6" d="M800 830L860 860L900 840L950 870M760 850L850 900L930 890L960 950M850 900L830 940M880 760L870 820M790 880L860 930L900 990"/>
<path class="pk" d="M840 800L900 790L910 830L860 850Z M860 900L920 895L900 935Z"/>
<circle class="pw" style="stroke-width:2.4" cx="1020" cy="790" r="68"/>
<circle class="p" style="stroke-width:2.2" cx="1018" cy="792" r="45"/>
<circle class="pk" cx="1018" cy="792" r="22"/>
<path class="p" style="stroke-width:1.8" d="M1040 700Q1075 680 1100 700Q1110 730 1085 745M1090 790Q1140 790 1135 850Q1125 870 1100 860M960 740Q985 700 1030 712"/>
<!-- nut 32 -->
<path class="pk" d="M360 1185L385 1165L418 1172L428 1200L408 1228L375 1225L358 1208Z"/>
<!-- screw 28 -->
<path d="M95 1292L165 1268" stroke="#222" stroke-width="24" stroke-linecap="round" fill="none"/>
<path class="pk" d="M62 1290L80 1268L108 1272L120 1300L100 1325L72 1318Z"/>
<!-- clip near 85 -->
<ellipse class="p" style="stroke-width:2.6" cx="1075" cy="1250" rx="18" ry="42" transform="rotate(20 1075 1250)"/>
</g>
<!-- 30_starter.svg -->
<g id="p1_2" transform="translate(150,695) scale(0.1)">
<!-- screws 1 -->
<g id="s1"><path d="M400 350L455 385" stroke="#222" stroke-width="34" stroke-linecap="round" fill="none"/><circle class="pk" cx="395" cy="348" r="34"/></g>
<use href="#s1" x="-265" y="240"/><use href="#s1" x="-305" y="502"/>
<!-- rope -->
<path class="p" style="stroke-width:1.8" d="M905 415Q800 445 690 425Q650 430 632 470M900 440Q800 470 700 450"/>
<!-- disc -->
<ellipse class="pk" cx="632" cy="868" rx="318" ry="418" transform="rotate(27 632 868)"/>
<path d="M455 660l30 -8l5 25l-30 8z M335 790l50 -30l-20 70l40 -20l-30 70z M540 520l40 20l-20 15z M350 990l20 40l-10 20z" fill="#fff"/>
<ellipse class="pw" style="stroke-width:2" cx="700" cy="850" rx="288" ry="400" transform="rotate(27 700 850)"/>
<!-- grill ring -->
<g transform="rotate(27 700 850)">
<ellipse cx="700" cy="850" rx="240" ry="335" fill="none" stroke="#222" stroke-width="92" stroke-dasharray="0 102 160 15 160 15 159 804 95 12 95 12 91 112"/>
<ellipse cx="700" cy="850" rx="240" ry="335" fill="none" stroke="#fff" stroke-width="12" stroke-dasharray="10 28" />
<ellipse cx="700" cy="850" rx="268" ry="372" fill="none" stroke="#222" stroke-width="8"/>
</g>
<ellipse class="pw" style="stroke-width:2.2" cx="668" cy="860" rx="195" ry="270" transform="rotate(27 668 860)"/>
<ellipse class="p" style="stroke-width:2" cx="662" cy="862" rx="165" ry="232" transform="rotate(27 662 862)"/>
<path class="p" style="stroke-width:3" d="M560 800Q600 720 690 730M540 900Q560 990 650 990M600 860Q610 790 680 790M720 940Q700 1000 640 1010M520 760Q500 830 520 900M740 760Q770 820 750 900"/>
<path class="pk" d="M500 700L560 650L600 670L540 730Z M700 640L760 660L760 720L710 700Z M520 950L560 1000L520 1040L490 990Z M440 850l40 -20l0 50z"/>
<ellipse class="pk" cx="655" cy="865" rx="52" ry="68" transform="rotate(27 655 865)"/>
<path d="M690 800Q740 830 730 900" stroke="#222" stroke-width="26" fill="none"/>
<path class="pk" d="M560 1090L610 1075L625 1105L580 1125Z M930 880L950 900L925 925L905 905Z"/>
<!-- handle -->
<path class="pw" style="stroke-width:2.2" d="M920 240L980 200L1040 180L1190 240L1235 340L1200 360L1180 300L1100 320L1040 400L1000 440L960 470L900 430L895 395L940 370L990 290L940 280Z"/>
<path class="p" style="stroke-width:1.8" d="M940 280L1010 230L1180 300M990 290L1040 260M940 370Q975 385 1000 440M925 385Q960 400 985 455"/>
<path class="pk" d="M895 395L940 372L960 405L905 435Z M1195 300L1235 340L1200 360Z"/>
<path class="pk" d="M1085 130Q1100 95 1135 105Q1165 125 1150 165L1165 195L1120 200L1100 170L1040 165L1045 145Z"/>
</g>
<!-- 31_shroud.svg -->
<g id="p4_6" transform="translate(300,770) scale(0.1)">
<!-- screws 4 -->
<g id="s4"><path d="M435 190L485 210" stroke="#222" stroke-width="32" stroke-linecap="round" fill="none"/><circle class="pk" cx="430" cy="185" r="34"/></g>
<use href="#s4" x="-215" y="335"/><use href="#s4" x="-400" y="475"/><use href="#s4" x="-410" y="885"/>
<!-- shroud -->
<path class="pw" style="stroke-width:1.9" d="M770 185Q800 175 830 185L980 265L1000 290L1030 320L1060 295L1070 315L1030 390L1100 420L1165 385L1185 400L1175 520L1000 960L1010 1010L960 1060L900 1090L560 1320L510 1350L470 1260L380 1230Q320 1210 290 1170Q230 1100 215 1000Q190 880 230 700Q270 590 330 520Q400 440 480 390L560 350Z"/>
<path class="p" style="stroke-width:1.7" d="M430 1230Q330 1190 280 1090Q235 1000 250 880Q270 730 360 560Q420 470 520 400"/>
<path class="p" style="stroke-width:1.8" d="M690 540Q560 640 480 800Q420 920 430 1050L470 1260M690 540Q720 680 640 860Q570 1000 440 1060M740 500Q790 680 700 880Q620 1020 470 1130M820 440Q880 600 830 800Q790 920 770 990"/>
<path class="p" style="stroke-width:1.8" d="M660 550L800 430L940 290L980 265M795 420L880 375L1000 410L1030 390M790 365Q790 335 820 330Q850 335 850 360L795 420M940 290L1000 410M1000 290L985 350"/>
<circle class="p" style="stroke-width:1.8" cx="818" cy="362" r="20"/>
<path class="p" style="stroke-width:1.8" d="M770 990L900 1085M840 800Q950 760 1050 680Q1130 600 1160 550M430 1180L560 1110L790 1000M470 1260L880 1060M520 1290L560 1320"/>
<circle class="p" style="stroke-width:1.9" cx="325" cy="952" r="35"/>
<circle class="pk" cx="585" cy="1250" r="12"/>
<path class="pk" d="M425 810Q445 790 465 805L450 860L425 850Z M470 1025L530 1000L535 1060L490 1085Z M960 1000L1000 965L1010 1010L975 1040Z M505 1300L525 1290L540 1320L515 1340Z"/>
<!-- part 6 nut -->
<path class="pk" d="M1085 1060Q1085 1020 1130 1005Q1185 1000 1215 1035Q1225 1080 1195 1125Q1160 1160 1120 1140Q1085 1110 1085 1060Z"/>
<ellipse cx="1160" cy="1075" rx="32" ry="42" fill="#fff" transform="rotate(20 1160 1075)"/>
<ellipse cx="1160" cy="1075" rx="14" ry="20" fill="#222" transform="rotate(20 1160 1075)"/>
</g>
<!-- 32_fan.svg -->
<g id="p7_10" transform="translate(425,865) scale(0.12)">
<path class="pw" style="stroke-width:1.9" d="M45 290L80 180Q110 130 150 120L200 130L320 210Q340 240 335 270L320 320Q290 380 260 400L210 415L140 380L50 330Z"/>
<ellipse class="pw" style="stroke-width:1.9" cx="270" cy="305" rx="58" ry="108" transform="rotate(25 270 305)"/>
<path class="pk" d="M150 120L200 130L235 160L175 150Z M50 320L110 350L100 370L50 335Z M215 375Q225 350 245 360L240 395L215 400Z"/>
<path class="pk" d="M262 240Q285 250 280 285L305 290L300 320L278 322Q275 355 250 362Q262 330 252 315L238 310L245 285L260 282Q258 258 262 240Z"/>
<path class="p" style="stroke-width:1.8" d="M100 225L150 235L145 257L95 247ZM120 150L110 225M150 235L235 200"/>
<path class="pw" style="stroke-width:1.9" d="M372 736 L376 714 L337 697 L350 672 L312 647 L334 620 L298 586 L329 560 L296 520 L334 495 L306 450 L351 429 L328 380 L377 363 L359 314 L411 302 L400 254 L453 248 L448 203 L500 204 L501 164 L549 172 L556 138 L599 153 L611 127 L647 148 L663 131"/>
<path class="p" style="stroke-width:1.6" d="M376 714 L401 707M350 672 L378 665M334 620 L365 613M329 560 L362 553M334 495 L370 489M351 429 L388 423M377 363 L415 359M411 302 L450 299M453 248 L492 247M500 204 L537 204M549 172 L586 173M599 153 L634 156M647 148 L680 152"/>
<path class="pk" d="M560 135L600 150L640 150L690 160L610 215L560 180Z"/>
<path d="M575 150l20 25M610 160l15 25" stroke="#fff" stroke-width="8"/>
<ellipse class="pw" style="stroke-width:2" cx="590" cy="452" rx="192" ry="322" transform="rotate(25 590 452)"/>
<ellipse class="p" style="stroke-width:1.7" cx="590" cy="452" rx="172" ry="298" transform="rotate(25 590 452)"/>
<ellipse class="p" style="stroke-width:1.8" cx="572" cy="462" rx="78" ry="125" transform="rotate(25 572 462)"/>
<ellipse class="p" style="stroke-width:1.8" cx="568" cy="464" rx="50" ry="80" transform="rotate(25 568 464)"/>
<path class="pk" d="M540 470Q560 420 595 405L610 425Q580 450 565 500L545 520Z"/>
<circle class="pk" cx="610" cy="237" r="11"/><circle class="pk" cx="755" cy="362" r="11"/><circle class="pk" cx="420" cy="575" r="11"/><circle class="pk" cx="565" cy="700" r="11"/>
<ellipse class="pw" style="stroke-width:2" cx="985" cy="705" rx="232" ry="335" transform="rotate(25 985 705)"/>
<ellipse class="p" style="stroke-width:1.7" cx="1000" cy="703" rx="225" ry="328" transform="rotate(25 1000 703)"/>
<ellipse class="pw" style="stroke-width:2" cx="1045" cy="695" rx="222" ry="328" transform="rotate(25 1045 695)"/>
<ellipse class="p" style="stroke-width:1.8" cx="1060" cy="700" rx="180" ry="285" transform="rotate(25 1060 700)"/>
<path class="pw" style="stroke-width:1.8" d="M965 405Q1000 380 1060 382L1180 430L1210 470L1195 520L1160 500L1150 465L1050 440L985 440Z"/>
<path class="p" style="stroke-width:1.6" d="M1050 440L1060 385M1150 465L1175 432M985 440L890 560Q850 680 880 800"/>
<path class="pw" style="stroke-width:1.8" d="M1040 890L1090 860L1150 890L1140 950L1090 985L1065 960Z"/>
<path class="pk" d="M1085 900L1140 915L1130 950L1095 940Z"/>
<path class="p" style="stroke-width:1.8" d="M935 985L945 960M965 995L972 968M995 995L1000 970M1025 990L1028 965M1055 980L1055 958M940 1015Q1000 1010 1060 985"/>
<ellipse class="pw" style="stroke-width:1.9" cx="985" cy="700" rx="95" ry="135" transform="rotate(25 985 700)"/>
<ellipse class="pw" style="stroke-width:1.9" cx="1005" cy="690" rx="68" ry="98" transform="rotate(25 1005 690)"/>
<ellipse class="p" style="stroke-width:1.9" cx="1012" cy="690" rx="38" ry="58" transform="rotate(25 1012 690)"/>
<path class="p" style="stroke-width:1.7" d="M900 640Q890 720 930 790M1060 610Q1090 640 1085 720"/>
<path d="M1210 1068L1325 1100" stroke="#222" stroke-width="40" stroke-linecap="round" fill="none"/>
<path d="M1245 1062l-8 35M1275 1070l-8 35M1300 1078l-8 35" stroke="#888" stroke-width="5"/>
<path class="pk" d="M1160 1045Q1170 1010 1205 1012Q1235 1020 1232 1060Q1225 1105 1190 1105Q1155 1090 1160 1045Z"/>
<ellipse cx="1190" cy="1045" rx="14" ry="22" fill="#fff" transform="rotate(15 1190 1045)"/>
</g>
<!-- 33_coil.svg -->
<g id="p35_36" transform="translate(480,690) scale(0.133333)">
<!-- cable A -->
<path d="M480 720Q545 620 555 560Q540 440 540 345Q560 290 620 262L900 140L1060 72Q1130 55 1170 100Q1185 160 1140 215L1100 262" fill="none" stroke="#222" stroke-width="44" stroke-linecap="round"/>
<path d="M480 720Q545 620 555 560Q540 440 540 345Q560 290 620 262L900 140L1060 72Q1130 55 1170 100Q1185 160 1140 215L1100 262" fill="none" stroke="#fff" stroke-width="21" stroke-linecap="round"/>
<!-- cable B -->
<path d="M275 865Q245 790 300 680Q350 610 450 575Q580 530 680 420Q740 330 900 225Q1000 180 1100 170L1265 172" fill="none" stroke="#222" stroke-width="34" stroke-linecap="round"/>
<path d="M275 865Q245 790 300 680Q350 610 450 575Q580 530 680 420Q740 330 900 225Q1000 180 1100 170L1265 172" fill="none" stroke="#fff" stroke-width="13" stroke-linecap="round"/>
<!-- coil -->
<path class="pw" style="stroke-width:2" d="M300 850L440 720L480 710L500 735L545 750L575 870L555 850L430 960L385 1050L320 1040L300 930Z"/>
<path class="p" style="stroke-width:1.9" d="M340 830Q380 820 400 850L420 960M400 850L530 770M350 870Q330 900 345 960L320 1040M345 960L395 980M440 720L450 750L545 750"/>
<path class="pk" d="M545 750L575 870L560 850L540 780Z"/>
<!-- bolts 36 -->
<g id="b36"><path d="M100 625L200 662" stroke="#222" stroke-width="34" stroke-linecap="round" fill="none"/><path d="M140 625l-10 32M170 635l-10 32" stroke="#999" stroke-width="5"/><path class="pk" d="M50 615Q55 585 88 582Q118 590 118 625Q110 665 78 662Q48 650 50 615Z"/><ellipse cx="80" cy="612" rx="12" ry="18" fill="#fff"/></g>
<use href="#b36" x="-135" y="270"/>
</g>
<!-- 33b_plugcap.svg -->
<g id="plugcap" transform="translate(570,690) scale(0.08)">
<!-- terminal -->
<path d="M975 288L1100 335" stroke="#222" stroke-width="50" stroke-linecap="round" fill="none"/>
<path d="M1010 300L1080 325" stroke="#999" stroke-width="14" fill="none"/>
<path class="pw" style="stroke-width:2.2" d="M1100 320Q1120 300 1160 310L1290 335Q1335 350 1330 380Q1320 410 1280 405L1140 380Q1095 365 1100 320Z"/>
<ellipse class="pw" style="stroke-width:1.8" cx="1268" cy="372" rx="28" ry="14" transform="rotate(10 1268 372)"/><ellipse class="pw" style="stroke-width:1.6" cx="1175" cy="352" rx="22" ry="12" transform="rotate(10 1175 352)"/>
<!-- second stub -->
<path class="pw" style="stroke-width:2" d="M790 560L860 485Q890 455 930 480Q960 510 945 555L800 690Q770 690 760 650Z"/>
<ellipse class="p" style="stroke-width:2" cx="915" cy="512" rx="30" ry="50" transform="rotate(35 915 512)"/>
<path class="p" style="stroke-width:2" d="M860 485Q850 530 880 570"/>
<!-- boot body -->
<path class="pw" style="stroke-width:2.1" d="M275 885L380 825L440 850L545 715L575 600L570 560L590 520L640 440L700 400L730 345L775 350L745 420L750 470L770 560L800 620L790 690L760 740L500 960L440 1040L390 1070L300 1060L255 1000L255 930Z"/>
<path class="pw" style="stroke-width:2.1" d="M545 715L575 600Q640 560 700 640Q690 700 640 720Q590 760 560 745Z"/>
<path class="p" style="stroke-width:2" d="M590 520Q670 540 740 600M620 468Q690 480 745 520M640 440Q700 440 750 470M440 850Q500 890 500 960M380 825Q440 870 440 1040M700 640Q760 620 800 620M715 610L770 700"/>
<!-- boot end -->
<ellipse class="pw" style="stroke-width:2.2" cx="335" cy="975" rx="74" ry="96" transform="rotate(28 335 975)"/>
<ellipse cx="340" cy="985" rx="38" ry="52" transform="rotate(28 340 985)" fill="#fff" stroke="#1e1e1e" stroke-width="34"/>
</g>
<!-- 34_p11_16.svg -->
<g id="p11_16" transform="translate(545,985) scale(0.12)">
<!-- 13 -->
<path class="pw" style="stroke-width:1.9" d="M590 75Q540 180 520 250Q490 350 500 450Q505 540 520 620Q550 720 600 770Q660 820 720 830Q770 830 790 800Q810 770 805 740L790 710Q700 650 650 560Q610 490 600 420Q590 350 600 280Q610 200 645 120Q630 85 590 75Z"/>
<path class="p" style="stroke-width:2.6" d="M590 540Q640 640 720 720L705 735Q620 660 580 560Z"/>
<path class="p" style="stroke-width:1.5" d="M560 180Q520 320 530 470Q545 620 620 740"/>
<ellipse class="pk" cx="606" cy="152" rx="10" ry="16"/><ellipse class="pk" cx="730" cy="795" rx="9" ry="14"/>
<!-- 11 -->
<path class="pw" style="stroke-width:1.9" d="M110 520L105 460Q115 410 150 395Q195 390 205 430L190 485Z"/>
<circle class="p" style="stroke-width:1.8" cx="160" cy="436" r="20"/><circle class="p" style="stroke-width:1.4" cx="160" cy="436" r="8"/>
<path class="pw" style="stroke-width:2" d="M110 540L140 505L230 480L265 510V580L190 630L125 600Z"/>
<path class="p" style="stroke-width:1.8" d="M140 505L185 545L265 510M185 545L190 630"/>
<path class="p" style="stroke-width:1.7" d="M170 628Q175 750 160 830M205 622Q215 740 232 815"/>
<path d="M160 835L138 890M233 820L240 870" stroke="#222" stroke-width="20" stroke-linecap="round" fill="none"/>
<!-- 12 -->
<path d="M370 582L405 605" stroke="#222" stroke-width="26" stroke-linecap="round" fill="none"/>
<path class="pk" d="M385 590Q400 565 430 575Q458 595 450 625Q435 650 405 645Q380 625 385 590Z"/>
<!-- 15 bolt / 16 washer -->
<path d="M895 1040L980 975" stroke="#222" stroke-width="48" stroke-linecap="round" fill="none"/>
<path d="M915 1000l30 35M945 978l30 35" stroke="#999" stroke-width="6"/>
<ellipse class="pw" style="stroke-width:2.6" cx="1035" cy="928" rx="36" ry="58" transform="rotate(-32 1035 928)"/>
<ellipse class="p" style="stroke-width:1.8" cx="1038" cy="930" rx="15" ry="28" transform="rotate(-32 1038 930)"/>
</g>
<!-- 35_p17_24.svg -->
<g id="p17_24" transform="translate(680,1100) scale(0.133333)">
<!-- dashes 108 box -->
<path d="M95 150L150 110L210 150M290 205L355 250M430 300L495 345M560 395L625 440M695 490L760 535M835 585L905 635M975 680L1040 725M1110 770L1180 815M30 420L95 465M165 510L225 550M440 700L500 745M575 795L640 840M715 890L780 935M855 985L915 1025M940 1045L1000 1000M1060 935L1110 885" stroke="#1e1e1e" stroke-width="15" fill="none"/>
<!-- pin 17 -->
<path d="M118 292L248 368" stroke="#222" stroke-width="38" stroke-linecap="round" fill="none"/><path d="M118 292L248 368" stroke="#fff" stroke-width="18" stroke-linecap="round" fill="none"/>
<path class="p" style="stroke-width:1.5" d="M175 320L195 345"/>
<!-- 18 -->
<ellipse class="pk" cx="312" cy="415" rx="9" ry="14" transform="rotate(30 312 415)"/>
<!-- washer 19 -->
<ellipse class="pw" style="stroke-width:2" cx="395" cy="480" rx="28" ry="42" transform="rotate(32 395 480)"/><ellipse class="p" style="stroke-width:1.5" cx="395" cy="480" rx="12" ry="20" transform="rotate(32 395 480)"/>
<!-- gear 20 -->
<path class="pw" style="stroke-width:2" d="M560 680Q545 620 590 575L610 545L650 550Q700 540 740 570"/>
<ellipse class="pk" cx="690" cy="670" rx="88" ry="118" transform="rotate(28 690 670)"/>
<path d="M640 640l35 -15l5 20l-30 18z M700 620l30 5l-8 25l-28 -5z M650 700l40 -15l5 22l-35 18z M720 680l25 0l-5 30l-25 0z M670 745l30 -10l5 20l-30 10z" fill="#fff"/>
<path class="p" style="stroke-width:2" d="M600 740L585 760M640 775L635 795M700 560L715 540"/>
<!-- washer 21 -->
<ellipse class="pw" style="stroke-width:2" cx="835" cy="785" rx="26" ry="40" transform="rotate(32 835 785)"/><ellipse class="p" style="stroke-width:1.5" cx="835" cy="785" rx="11" ry="19" transform="rotate(32 835 785)"/>
<!-- pin 22 -->
<path d="M995 872L1060 912" stroke="#222" stroke-width="40" stroke-linecap="round" fill="none"/><path d="M1000 875L1060 912" stroke="#fff" stroke-width="20" stroke-linecap="round" fill="none"/>
<ellipse class="pw" style="stroke-width:2.2" cx="987" cy="868" rx="18" ry="27" transform="rotate(30 987 868)"/>
<!-- arm 23 -->
<path d="M1245 690L1228 830L1140 990" stroke="#222" stroke-width="40" stroke-linecap="round" stroke-linejoin="round" fill="none"/>
<path d="M1242 720L1226 828L1142 984" stroke="#fff" stroke-width="19" stroke-linecap="round" stroke-linejoin="round" fill="none"/>
<path class="p" style="stroke-width:1.5" d="M1215 850L1250 860"/>
<!-- 24 -->
<ellipse class="pk" cx="1310" cy="875" rx="20" ry="14"/>
<!-- bolts 41 -->
<g id="b41"><path d="M1420 570L1500 530" stroke="#222" stroke-width="40" stroke-linecap="butt" fill="none"/><path class="pk" d="M1365 590Q1365 550 1400 540Q1435 545 1440 580Q1430 620 1400 625Q1370 620 1365 590Z"/><circle cx="1398" cy="582" r="14" fill="#fff"/></g>
<use href="#b41" x="-5" y="165"/>
</g>
<!-- 36_crank.svg -->
<g id="p38_43" transform="translate(800,1040) scale(0.14)">
<!-- dashes 109 box -->
<path d="M105 320L125 385L180 430M255 470L320 505M395 555L455 580M520 625L585 660M670 705L735 745M810 790L875 830M905 850L912 935M918 1010L925 1090M928 1165L935 1250M940 1320V1360H880M820 1362H755M690 1362H620M560 1362L530 1360L495 1300M455 1220L420 1160M375 1090L335 1020M290 950L260 900Q225 860 190 845M130 800L95 790L90 720" stroke="#1e1e1e" stroke-width="14" fill="none"/>
<!-- seal 38 -->
<ellipse cx="190" cy="250" rx="55" ry="86" transform="rotate(25 190 250)" fill="#1e1e1e"/><ellipse cx="190" cy="250" rx="38" ry="66" transform="rotate(25 190 250)" fill="none" stroke="#9a9a9a" stroke-width="7"/><ellipse cx="190" cy="250" rx="20" ry="42" transform="rotate(25 190 250)" fill="#fff"/>
<!-- bearing 39 -->
<path class="pw" style="stroke-width:2" d="M440 285Q380 260 335 300Q300 350 300 410Q310 470 350 490L390 490Z"/>
<ellipse cx="415" cy="385" rx="66" ry="102" transform="rotate(25 415 385)" fill="#1e1e1e"/><ellipse cx="415" cy="385" rx="47" ry="80" transform="rotate(25 415 385)" fill="none" stroke="#9a9a9a" stroke-width="8"/><ellipse cx="415" cy="385" rx="26" ry="50" transform="rotate(25 415 385)" fill="#fff"/>
<!-- key 42 -->
<ellipse class="pw" style="stroke-width:2.2" cx="765" cy="436" rx="25" ry="10" transform="rotate(12 765 436)"/>
<!-- crank left shaft -->
<path class="pw" style="stroke-width:2" d="M595 450L612 438L860 540L830 625L598 498Z"/>
<path class="pk" d="M595 450L612 438L690 470L670 538L598 498Z"/>
<path class="p" style="stroke-width:1.8" d="M740 490L715 560M780 508L760 580M800 518L785 590"/>
<path class="pk" d="M745 520l20 8l-12 40l-18 -8z"/>
<!-- right shaft -->
<path class="pw" style="stroke-width:2" d="M1150 655L1452 834Q1470 870 1448 905L1402 918L1110 760Z"/>
<ellipse class="pk" cx="1428" cy="876" rx="20" ry="46" transform="rotate(30 1428 876)"/>
<path d="M1170 760l10 5M1230 790l10 5M1290 822l10 5M1350 855l10 5" stroke="#222" stroke-width="8"/>
<!-- webs -->
<path class="pw" style="stroke-width:2.2" d="M840 560L900 500Q925 490 940 505L930 600L880 700V790L840 760L810 680L815 620Z"/>
<path class="p" style="stroke-width:2" d="M850 600Q890 540 925 530M830 650Q850 720 880 740"/>
<path class="pw" style="stroke-width:2.2" d="M960 480L1020 460L1060 500L1120 520Q1140 560 1135 600L1090 640L1030 700L1050 800L1010 850L960 830L940 760L950 660L990 600L960 560Z"/>
<path class="p" style="stroke-width:2" d="M960 560Q940 520 960 480Q990 470 1010 500Q1020 560 990 600M1030 700Q990 720 980 780Q985 820 1010 850M1060 500Q1080 560 1070 620"/>
<ellipse class="p" style="stroke-width:1.8" cx="1108" cy="590" rx="10" ry="18"/>
<path class="p" style="stroke-width:1.6" d="M985 640L1000 660L985 670"/>
<!-- collar -->
<ellipse cx="1100" cy="725" rx="52" ry="82" transform="rotate(28 1100 725)" fill="#fff" stroke="#1e1e1e" stroke-width="30"/>
<path class="pw" style="stroke-width:2" d="M1120 670L1200 690L1160 790L1090 770Z" />
<path d="M1125 672L1200 692M1092 768L1160 790" stroke="#222" stroke-width="14" fill="none"/>
<!-- arm 40 -->
<path class="pw" style="stroke-width:2" d="M735 820L825 855L810 900L770 880L740 900L690 1020L720 1040L755 1000L775 1005L730 1180L710 1185L725 1050L680 1040L685 930Z"/>
<path class="pk" d="M735 820L825 855L815 885L740 850Z M755 1000L775 1005L745 1110L740 1050Z"/>
<circle class="p" style="stroke-width:1.8" cx="742" cy="878" r="14"/><circle class="p" style="stroke-width:1.8" cx="702" cy="1018" r="14"/>
<path class="p" style="stroke-width:1.8" d="M770 880Q790 930 770 1000"/>
</g>
<!-- 37_gasket44.svg -->
<g id="p44_47" transform="translate(1000,1130) scale(0.12)">
<path class="p" style="stroke-width:1.8" d="M395 110L590 235L600 290L570 420L500 560L530 630L150 900L120 905L115 860L145 800Q100 720 90 640Q75 590 80 540Q85 460 100 400L130 300Z"/>
<path class="p" style="stroke-width:1.8" d="M395 135L570 248L578 290L550 415L478 560L505 622L150 875L140 865L168 800Q122 720 112 640Q98 590 102 540Q106 460 120 405L148 312Z"/>
<g fill="#222"><circle cx="455" cy="210" r="18"/><circle cx="590" cy="245" r="18"/><circle cx="510" cy="625" r="18"/><circle cx="130" cy="885" r="18"/><circle cx="72" cy="545" r="18"/><circle cx="76" cy="635" r="18"/><circle cx="125" cy="325" r="18"/><circle cx="390" cy="150" r="18"/></g>
<g id="d45"><path class="pw" style="stroke-width:2.2" d="M850 440Q855 420 880 425L960 460Q985 475 975 505Q965 535 935 532L855 490Q840 470 850 440Z"/><ellipse class="p" style="stroke-width:2" cx="947" cy="497" rx="20" ry="32" transform="rotate(25 947 497)"/></g>
<use href="#d45" x="-450" y="592"/>
<!-- bearing 46 -->
<path class="pw" style="stroke-width:2" d="M1215 735Q1150 715 1105 770Q1060 840 1070 905Q1085 960 1130 965L1175 955Z"/>
<ellipse cx="1195" cy="850" rx="72" ry="116" transform="rotate(25 1195 850)" fill="#1e1e1e"/><ellipse cx="1195" cy="850" rx="52" ry="92" transform="rotate(25 1195 850)" fill="none" stroke="#9a9a9a" stroke-width="9"/><ellipse cx="1195" cy="850" rx="28" ry="58" transform="rotate(25 1195 850)" fill="#fff"/>
<!-- seal 47 -->
<ellipse cx="1355" cy="950" rx="54" ry="96" transform="rotate(25 1355 950)" fill="#1e1e1e"/><ellipse cx="1355" cy="950" rx="37" ry="74" transform="rotate(25 1355 950)" fill="none" stroke="#9a9a9a" stroke-width="8"/><ellipse cx="1355" cy="950" rx="15" ry="46" transform="rotate(25 1355 950)" fill="#fff"/>
</g>
<!-- 38_cover48.svg -->
<g id="p48_50" transform="translate(1160,1200) scale(0.12)">
<path class="pw" style="stroke-width:2.5" d="M460 230L500 250L560 270L640 205L740 250L750 290L720 340L690 370L720 390L700 440L690 480L780 540L670 680L660 760L610 800L590 830L340 1040L310 1030L300 1000L280 990L270 1060L240 1080L170 1040L175 1000L210 980L130 940L115 890L140 850L190 840V790L130 760L125 670L165 620L160 560L190 430Z"/>
<path class="p" style="stroke-width:2.3" d="M230 440L470 265L540 300L600 380L590 600L560 690L330 830L290 790L250 560Z"/>
<path class="p" style="stroke-width:2.1" d="M280 440L480 300M560 270L600 380L690 370M600 380L700 440M590 600L670 680M330 830L300 1000M210 500Q190 600 215 700L190 790M250 560L210 500M165 620L215 700M230 440L250 480"/>
<path class="pw" style="stroke-width:2.3" d="M340 500L480 420L590 470L560 640L400 780L320 790L310 650Z"/>
<ellipse class="p" style="stroke-width:2.3" cx="455" cy="595" rx="105" ry="160" transform="rotate(28 455 595)"/>
<ellipse class="p" style="stroke-width:2.8" cx="460" cy="592" rx="80" ry="130" transform="rotate(28 460 592)"/>
<ellipse class="pw" style="stroke-width:3.4" cx="462" cy="590" rx="52" ry="100" transform="rotate(28 462 590)"/>
<path class="pk" d="M500 640Q540 600 545 540L560 640L520 680Z M345 520L380 500L370 560L350 580Z"/>
<circle class="p" style="stroke-width:2.1" cx="250" cy="480" r="22"/><circle class="p" style="stroke-width:2.1" cx="340" cy="800" r="18"/><circle class="p" style="stroke-width:2.1" cx="315" cy="1010" r="18"/><circle class="p" style="stroke-width:2.1" cx="705" cy="290" r="20"/>
<path class="pk" d="M690 370L720 390L700 440L675 420Z"/>
<circle class="pk" cx="165" cy="895" r="52"/><circle cx="160" cy="905" r="20" fill="#666"/>
<path class="pk" d="M225 990L270 985L270 1055L240 1075Z M180 760l40 10l-5 50l-35 -15z"/>
<!-- oil plug -->
<path d="M1085 245L945 360" stroke="#222" stroke-width="36" stroke-linecap="round" fill="none"/>
<path d="M1070 258L960 348" stroke="#fff" stroke-width="10" stroke-linecap="round" fill="none"/>
<path class="pk" d="M1060 200L1070 175L1130 140L1210 165L1200 215L1140 250L1080 240Z"/>
<path d="M1130 160L1190 178L1150 205Z" fill="#fff"/>
<!-- bolts 50 -->
<g id="b50"><path d="M770 415L860 460" stroke="#222" stroke-width="30" stroke-linecap="round" fill="none"/><path d="M795 410l-10 28M820 422l-10 28" stroke="#aaa" stroke-width="5"/><circle class="pk" cx="880" cy="470" r="38"/><circle cx="888" cy="474" r="10" fill="#777"/></g>
<use href="#b50" x="195" y="105"/><use href="#b50" x="5" y="295"/><use href="#b50" x="-10" y="415"/><use href="#b50" x="-180" y="530"/><use href="#b50" x="-335" y="695"/>
</g>
<g id="p49"><path d="M1127 1312.5L1149 1313.5" stroke="#222" stroke-width="4.2" stroke-linecap="round" fill="none"/><path d="M1112.5 1308L1117 1305.5L1125 1307.5L1127.5 1313L1124.5 1318.5L1118 1319Z" fill="#fff" stroke="#222" stroke-width="2" stroke-linejoin="round"/><path d="M1116 1309L1122 1316" stroke="#222" stroke-width="1.4"/><path d="M1126.5 1309.5v7" stroke="#222" stroke-width="2.4"/></g>
<!-- 39_p3.svg -->
<g id="p3" transform="translate(220,815) scale(0.053333)">
<path d="M365 250L560 330Q680 390 695 480Q690 580 740 640L890 770" stroke="#1e1e1e" stroke-width="62" stroke-linecap="round" stroke-linejoin="round" fill="none"/>
<path d="M545 345Q530 395 450 400" stroke="#1e1e1e" stroke-width="50" stroke-linecap="round" fill="none"/>
<path d="M450 405L275 470" stroke="#1e1e1e" stroke-width="85" stroke-linecap="round" fill="none"/>
<path class="pk" d="M600 880L700 830Q740 760 820 770L900 760Q960 730 1000 770L1010 830L1060 870L1050 1000L1000 1070L900 1040L780 1045Q720 1020 700 950L610 930Z"/>
<path d="M730 860Q760 810 820 830L800 870ZM740 950Q770 1010 830 990L835 950Z M880 830l50 -10l10 50l-45 10z M900 950l40 -20l20 50l-40 30z M970 950l30 -15l5 50l-25 15z" fill="#fff"/>
<path d="M640 905L840 915" stroke="#999" stroke-width="18"/>
</g>
<g id="p29_30"><path d="M695.5 912L699 915.5" stroke="#222" stroke-width="2" stroke-linecap="round"/><ellipse cx="695.5" cy="933.2" rx="5.5" ry="2.6" fill="#fff" stroke="#222" stroke-width="1.8"/></g>
<!-- 40_engine.svg -->
<g id="p14" transform="translate(640,930) scale(0.12)">
<!-- barrel body -->
<path class="pw" style="stroke-width:2.2" d="M250 640Q220 800 250 950Q265 1000 290 1010L265 1085L640 1290L1010 1070L1100 965Q1130 800 1090 690L900 560L640 600L400 640Z"/>
<!-- base -->
<path class="pw" style="stroke-width:2.2" d="M175 1150L265 1085L640 1290L1010 1065L1100 965V1060L560 1440L180 1245Z"/>
<path class="p" style="stroke-width:2.1" d="M175 1150L580 1350L560 1440M580 1350L1100 1040M210 1130L600 1320M265 1085L300 1060"/>
<ellipse class="pk" cx="365" cy="1290" rx="24" ry="34"/>
<circle class="pk" cx="650" cy="1330" r="12"/><circle class="pk" cx="920" cy="1120" r="12"/><circle class="pk" cx="1015" cy="1070" r="10"/>
<path class="p" style="stroke-width:1.8" d="M790 1150L815 1165L800 1185M540 1365V1385"/>
<!-- barrel seams -->
<path class="p" style="stroke-width:2.1" d="M250 760L590 905M255 950Q300 1000 340 1010M290 1010L520 1100"/>
<!-- flange ring front -->
<path class="p" style="stroke-width:3.1" d="M650 740Q575 900 600 1080Q615 1210 655 1290"/>
<path class="p" style="stroke-width:2.1" d="M620 760Q550 900 575 1090Q590 1200 625 1280M1090 690Q1125 830 1085 975L1010 1070M1065 700Q1095 830 1060 960L990 1050"/>
<circle class="pk" cx="640" cy="790" r="12"/><circle class="pk" cx="600" cy="1070" r="12"/><circle class="pk" cx="1060" cy="870" r="10"/>
<!-- inside opening -->
<path class="p" style="stroke-width:2.1" d="M650 740Q700 690 760 670L900 640Q1000 640 1090 690M740 700Q800 760 880 760Q900 740 880 700M930 880Q960 800 1000 760Q1030 830 1000 920Q980 970 960 980Q930 940 930 880Z"/>
<path class="pk" d="M740 700Q800 770 880 765L895 735Q820 745 760 690Z"/>
<path class="p" style="stroke-width:1.9;stroke-dasharray:3 6" d="M660 810L960 960"/>
<path class="p" style="stroke-width:2.1" d="M900 600L960 640L940 690L890 670ZM780 620L900 590M700 640L760 600L900 560"/>
<path class="pk" d="M900 600L930 620L925 660L895 650Z"/>
<!-- governor shaft housing -->
<path class="pw" style="stroke-width:2.2" d="M640 1030V1100Q690 1130 740 1100V1030Z"/>
<ellipse class="pw" style="stroke-width:2.2" cx="690" cy="1028" rx="50" ry="24"/>
<ellipse class="p" style="stroke-width:1.9" cx="690" cy="1028" rx="25" ry="12"/>
<path class="p" style="stroke-width:2.8" d="M620 960Q650 930 700 950L740 980M590 1000L610 1100L640 1180L650 1240M520 1040Q500 1000 540 960Q580 940 600 980"/>
<ellipse class="pw" style="stroke-width:2.1" cx="560" cy="965" rx="22" ry="28"/><ellipse class="pw" style="stroke-width:2.1" cx="530" cy="1040" rx="22" ry="28"/>
<path class="p" style="stroke-width:2.1" d="M640 1180Q680 1150 720 1180L770 1130M660 1250Q700 1300 760 1260L1000 1090"/>
<!-- plug -->
<circle class="pk" cx="410" cy="995" r="46"/><circle cx="415" cy="998" r="22" fill="#fff"/><circle class="pk" cx="415" cy="998" r="10"/>
<!-- wire -->
<path class="p" style="stroke-width:2" d="M60 1000Q100 1050 180 1060Q280 1080 350 1040L390 1020"/>
<path class="pw" style="stroke-width:2.1" d="M0 985L50 995Q65 1005 55 1018L5 1010Z"/>
<!-- left wedge / air guide -->
<path class="pw" style="stroke-width:2.2" d="M95 490L300 470L330 440L300 420L420 330L440 350L560 290L545 365L700 450L640 600L480 660L390 680L200 590L135 580Z"/>
<path class="p" style="stroke-width:2.1" d="M300 470L480 560L440 620L390 680M95 490L180 530L135 580M180 530L470 560M400 450L540 370L700 450L560 540ZM430 460L540 400L650 455M400 450L410 500"/>
<path class="pw" style="stroke-width:2.1" d="M485 440V510Q515 525 545 510V440Z"/><ellipse class="pw" style="stroke-width:2.1" cx="515" cy="440" rx="30" ry="14"/>
<path class="pk" d="M395 460L415 450L420 500L400 505Z"/>
<!-- middle bracket -->
<path class="pw" style="stroke-width:2.2" d="M480 660L520 635L560 650L700 640L720 660L690 700L600 700L540 760L490 740Z"/>
<circle class="p" style="stroke-width:2.1" cx="522" cy="660" r="16"/>
<path class="p" style="stroke-width:2.1" d="M560 650L600 700M640 600L700 640"/>
<!-- top box -->
<path class="pw" style="stroke-width:2.6" d="M690 290L740 60L880 130L870 180L830 190L800 335Z"/>
<path class="p" style="stroke-width:2.1" d="M740 60L720 170L820 215M700 240L805 290M830 190L800 170"/>
<path class="pw" style="stroke-width:2.2" d="M615 95L690 110L685 140L610 125Z"/>
<circle class="pk" cx="712" cy="175" r="12"/><circle class="pk" cx="850" cy="185" r="10"/>
<!-- cylinder fins -->
<path d="M690 300L800 340L1240 600L1240 590L1215 450Q1200 340 1110 290L900 195L860 190L800 335" fill="#fff" stroke="none"/>
<g fill="none" stroke="#1e1e1e" stroke-width="37" stroke-linecap="round" stroke-linejoin="round">
<path d="M900 195L1110 290Q1200 340 1215 450L1240 590"/>
<path d="M880 250L1075 338Q1160 385 1178 485L1200 615"/>
<path d="M850 300L1038 382Q1120 430 1140 522L1160 640"/>
<path d="M810 345L1000 425Q1080 470 1100 560L1118 660"/>
<path d="M770 385L960 465Q1040 510 1062 592L1082 680"/>
<path d="M725 420L920 503Q1000 548 1030 622L1048 692"/>
<path d="M690 455L880 540Q950 580 985 640"/>
</g>
<path class="p" style="stroke-width:2.1" d="M1240 590Q1200 640 1150 630M660 380L700 330"/>
<!-- washer + bolt right -->
<ellipse class="pw" style="stroke-width:2.8" cx="1180" cy="780" rx="30" ry="48" transform="rotate(-30 1180 780)"/>
<ellipse class="p" style="stroke-width:1.9" cx="1180" cy="780" rx="12" ry="24" transform="rotate(-30 1180 780)"/>
<path d="M1230 735L1290 695" stroke="#222" stroke-width="38" stroke-linecap="round" fill="none"/>
<path d="M1245 705l20 30M1265 692l20 30" stroke="#999" stroke-width="5"/>
</g>
<!-- 41_vdash.svg -->
<g stroke="#1e1e1e" stroke-width="1.9" fill="none">
<path d="M802 1004L809.5 1140" stroke-dasharray="16 8"/>
<path d="M810.5 1008L815 1086" stroke-dasharray="16 10"/>
</g>
<!-- 70_dots.svg -->
<g id="dots" class="dot">
<path d="M712 204V958"/>
<path d="M140 745L178 763.6"/>
<path d="M245 796.3L430 886.7"/>
<path d="M464 903.4L640 989.4"/>
<path d="M766 1051L816 1075.4"/>
<path d="M836 1085.2L846 1090"/>
<path d="M866 1099.9L882 1107.7"/>
<path d="M1008 1169.3L1128 1227.9"/>
<path d="M1238 1281.7L1300 1312"/>
<path d="M1036 690L1226 764"/>
<path d="M805 1006L887 970"/>
<path d="M887 970L982 1010"/>
<path d="M802 1009L740 1040"/>
<path d="M764 1049L806 1024"/>
<path d="M700 1101L676 1114L695 1139"/>
</g>
<!-- 80_leaders.svg -->
<g id="leaders" class="ld">
<path d="M98 828L160 786M129 848L187 809M206 908L261 871M236 928L300 882M263 946L339 894M295 967L412 884M330 988L441 911M381 1022L476 957M430 1054L530 986M463 1073L567 998"/>
<path d="M505 1099L560 1061M546 1098L592 1064M547 1127L617 1079M571 1145L662 1081M612 1140L652 1111M612 1170L671 1129V1102M637 1186L696 1143M681 1186L720 1158M672 1209L731 1167M707 1230L755 1196M749 1238L789 1208M758 1261L810 1223M778 1274L830 1236M806 1292L855 1257V1218"/>
<path d="M453 730H552M453 776.4H487M654 776.4H734M654 801.4H720M653 855H689M654 885H688M654 912H694M654 933.6H690"/>
<path d="M744 862L716 839M743 888L729 877M843 774H818M843 819.4H809M808 870L827 879"/>
<path d="M762 1079L750 1071M795 1102L816 1090M823 1122L844 1108M930 1184L909 1173M928 1225L874 1200M965 1060L908 1099M998 1075L952 1108"/>
<path d="M1100 1126L1062 1151M1158 1150L1115 1181M1207 1175L1147 1217M1235 1188L1169 1233M1274 1207L1245 1226M1089 1330L1112 1312M1330 1234L1288 1262"/>
<path d="M1083 976L1036 1010M1174 927L1137 909M1184 882L1119 848M1137 778L1170 755M1187 810L1232 779M1209 826L1280 776M1248 844L1302 806M1283 861L1332 825M1321 879L1373 842"/>
<path d="M1339 420L1303 400M1320 444L1284 427M1150 418L1177 401M1282 489L1237 467M1258 525L1207 499M1238 551L1188 527M1220 574L1181 555M1199 600L1148 572M1179 624L1130 598"/>
<path d="M1003 549L1059 578M989 571L1027 589M1160 651L1081 611M1117 650L1067 625M1136 681L1060 640M1116 707L1040 667M1090 740L1024 705"/>
<path d="M909 678L944 696L946 712M888 701L954 736M1056 785L974 742M1027 820L954 781M1003 852L936 818M956 857L915 836M970 893L897 855M952 918L887 885V872"/>
<path d="M934 937L911 928M896 926V947Q897 955 916 963M900 984L861 965M878 1013L842 994M860 1036L806 1007L802 948"/>
<path d="M452 518L503 483M515 554L570 517M580 592L634 553M632 618L688 580M664 637L732 588M700 656L760 615M733 675L802 626M768 693L847 637"/>
</g>
<g class="lg">
<path d="M738 60H812M728 109H812M726 147H812M784 177H812M783 241.6H812M592 286.6H645M594 334H638M658 400.4H812M690 425.4H812"/>
</g>
<g stroke="#222" stroke-width="2" fill="none">
<path d="M915 848L997 953M903 1063L860 1119M854 1114L866 1122M655 1245L729 1189L721 1181"/>
</g>
<!-- 90_labels.svg -->
<g id="labels" opacity="0.999">
<text class="n" x="84.0" y="841.3">1</text>
<text class="n" x="114.7" y="864.3">2</text>
<text class="n" x="191.7" y="924.3">3</text>
<text class="n" x="221.7" y="943.3">4</text>
<text class="n" x="248.7" y="961.3">5</text>
<text class="n" x="280.7" y="983.3">6</text>
<text class="n" x="315.7" y="1004.3">7</text>
<text class="n" x="366.7" y="1038.3">8</text>
<text class="n" x="415.7" y="1071.3">9</text>
<text class="n" x="434.0" y="1089.3">10</text>
<text class="n" x="477.0" y="1115.3">11</text>
<text class="n" x="519.0" y="1114.3">12</text>
<text class="n" x="519.0" y="1142.3">13</text>
<text class="n" x="543.0" y="1160.3">14</text>
<text class="n" x="584.0" y="1157.3">15</text>
<text class="n" x="585.0" y="1186.3">16</text>
<text class="n" x="610.0" y="1202.3">17</text>
<text class="n" x="654.0" y="1202.3">18</text>
<text class="n" x="644.0" y="1225.3">19</text>
<text class="n" x="678.7" y="1247.3">20</text>
<text class="n" x="723.7" y="1255.3">21</text>
<text class="n" x="729.7" y="1278.3">22</text>
<text class="n" x="750.7" y="1291.3">23</text>
<text class="n" x="777.7" y="1309.3">24</text>
<text class="n" x="624.7" y="785.3">25</text>
<text class="n" x="624.7" y="810.3">26</text>
<text class="n" x="624.7" y="864.3">27</text>
<text class="n" x="624.7" y="894.3">28</text>
<text class="n" x="624.7" y="922.3">29</text>
<text class="n" x="624.7" y="943.3">30</text>
<text class="n" x="749.7" y="879.3">31</text>
<text class="n" x="740.7" y="906.3">32</text>
<text class="n" x="842.7" y="782.3">33</text>
<text class="n" x="842.7" y="828.3">34</text>
<text class="n" x="423.7" y="740.3">35</text>
<text class="n" x="423.7" y="785.3">36</text>
<text class="n" x="765.7" y="1092.3">37</text>
<text class="n" x="765.7" y="1121.3">38</text>
<text class="n" x="794.7" y="1139.3">39</text>
<text class="n" x="934.7" y="1197.3">40</text>
<text class="n" x="934.7" y="1241.3">41</text>
<text class="n" x="966.7" y="1066.3">42</text>
<text class="n" x="1000.7" y="1081.3">43</text>
<text class="n" x="1103.7" y="1130.3">44</text>
<text class="n" x="1159.7" y="1156.3">45</text>
<text class="n" x="1210.7" y="1178.3">46</text>
<text class="n" x="1237.7" y="1191.3">47</text>
<text class="n" x="1277.7" y="1210.3">48</text>
<text class="n" x="1060.7" y="1347.3">49</text>
<text class="n" x="1332.7" y="1236.3">50</text>
<text class="n" x="1086.7" y="976.3">51</text>
<text class="n" x="1175.7" y="940.3">52</text>
<text class="n" x="1190.7" y="894.3">53</text>
<text class="n" x="1108.7" y="795.3">54</text>
<text class="n" x="1157.7" y="828.3">55</text>
<text class="n" x="1180.7" y="843.3">56</text>
<text class="n" x="1218.7" y="861.3">57</text>
<text class="n" x="1253.7" y="878.3">58</text>
<text class="n" x="1291.7" y="896.3">59</text>
<text class="n" x="1344.7" y="430.3">60</text>
<text class="n" x="1325.7" y="456.3">61</text>
<text class="n" x="1124.7" y="434.3">62</text>
<text class="n" x="1289.7" y="502.3">63</text>
<text class="n" x="1262.7" y="536.3">64</text>
<text class="n" x="1242.7" y="562.3">65</text>
<text class="n" x="1225.7" y="585.3">66</text>
<text class="n" x="1204.7" y="611.3">67</text>
<text class="n" x="1185.7" y="636.3">68</text>
<text class="n" x="973.7" y="554.3">69</text>
<text class="n" x="959.7" y="578.3">70</text>
<text class="n" x="1162.7" y="666.3">71</text>
<text class="n" x="1124.7" y="666.3">72</text>
<text class="n" x="1143.7" y="693.3">73</text>
<text class="n" x="1122.7" y="718.3">75</text>
<text class="n" x="1098.7" y="750.3">76</text>
<text class="n" x="881.7" y="686.3">77</text>
<text class="n" x="858.7" y="708.3">78</text>
<text class="n" x="1062.7" y="796.3">79</text>
<text class="n" x="1034.7" y="831.3">80</text>
<text class="n" x="1009.7" y="863.3">81</text>
<text class="n" x="962.7" y="868.3">82</text>
<text class="n" x="977.7" y="903.3">83</text>
<text class="n" x="957.7" y="929.3">84</text>
<text class="n" x="778.7" y="872.3">85</text>
<text class="n" x="940.7" y="950.3">86</text>
<text class="n" x="922.7" y="973.3">87</text>
<text class="n" x="906.7" y="995.3">88</text>
<text class="n" x="883.7" y="1023.3">89</text>
<text class="n" x="866.7" y="1047.3">90</text>
<text class="n" x="420.7" y="538.3">91</text>
<text class="n" x="485.7" y="573.3">92</text>
<text class="n" x="550.7" y="609.3">93</text>
<text class="n" x="602.7" y="637.3">94</text>
<text class="n" x="635.7" y="655.3">95</text>
<text class="n" x="671.7" y="674.3">96</text>
<text class="n" x="705.7" y="693.3">97</text>
<text class="n" x="739.7" y="711.3">98</text>
<text class="ng" x="815.6" y="69.3">99</text>
<text class="ng" x="815.8" y="118.3">100</text>
<text class="ng" x="815.8" y="157.3">101</text>
<text class="ng" x="815.8" y="186.3">102</text>
<text class="ng" x="813.8" y="250.3">103</text>
<text class="ng" x="546.8" y="296.3">104</text>
<text class="ng" x="546.8" y="343.3">105</text>
<text class="ng" x="811.8" y="409.3">106</text>
<text class="ng" x="811.8" y="434.3">107</text>
<text class="ns" x="618.0" y="1262.3" textLength="37" lengthAdjust="spacingAndGlyphs">108</text>
<text class="ns" x="904.0" y="1062.3" textLength="34" lengthAdjust="spacingAndGlyphs">109</text>
<text class="ns" x="991.0" y="975.3" textLength="30" lengthAdjust="spacingAndGlyphs">110</text>
</g>
</svg>
</body></html>
